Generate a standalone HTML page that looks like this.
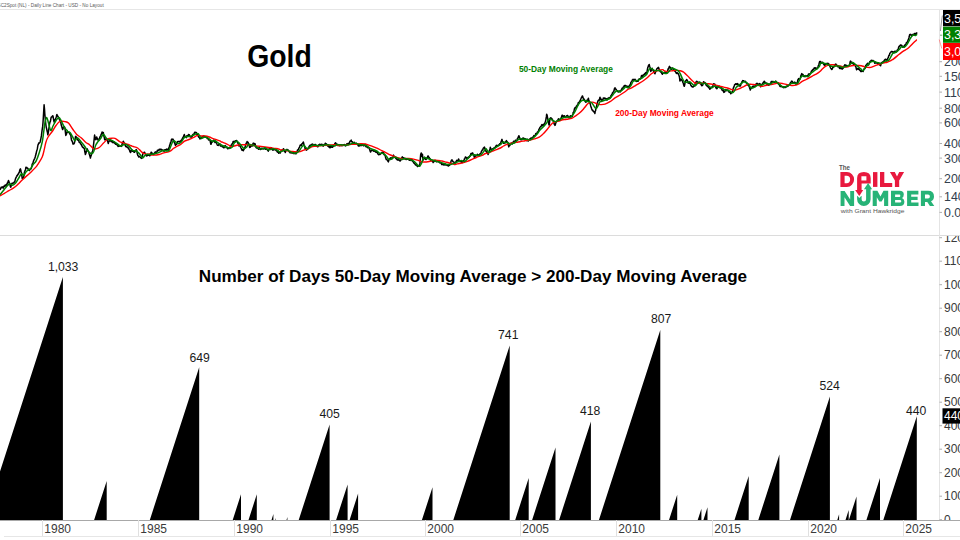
<!DOCTYPE html><html><head><meta charset="utf-8"><style>
html,body{margin:0;padding:0;background:#fff;width:960px;height:540px;overflow:hidden}
svg{display:block}text{font-family:"Liberation Sans",sans-serif}
</style></head><body>
<svg width="960" height="540" viewBox="0 0 960 540">
<rect width="960" height="540" fill="#fff"/>
<text x="-3" y="7.1" font-size="5.8" fill="#585858" textLength="106.7" lengthAdjust="spacingAndGlyphs">GC2Spot (NL) - Daily Line Chart - USD - No Layout</text>
<line x1="0" y1="9.5" x2="960" y2="9.5" stroke="#e6e6e6" stroke-width="1"/>
<line x1="0" y1="235.5" x2="960" y2="235.5" stroke="#dcdcdc" stroke-width="1"/>
<line x1="939.5" y1="10" x2="939.5" y2="520" stroke="#e4e4e4" stroke-width="1"/>
<line x1="0" y1="520.5" x2="960" y2="520.5" stroke="#a8a8a8" stroke-width="1"/>
<line x1="4" y1="536.5" x2="960" y2="536.5" stroke="#e6e6e6" stroke-width="1"/>
<line x1="42.5" y1="520" x2="42.5" y2="536" stroke="#e0e0e0" stroke-width="1"/>
<text x="44.3" y="532.6" font-size="12" fill="#3a3a3a">1980</text>
<line x1="138.5" y1="520" x2="138.5" y2="536" stroke="#e0e0e0" stroke-width="1"/>
<text x="140.3" y="532.6" font-size="12" fill="#3a3a3a">1985</text>
<line x1="234.5" y1="520" x2="234.5" y2="536" stroke="#e0e0e0" stroke-width="1"/>
<text x="236.3" y="532.6" font-size="12" fill="#3a3a3a">1990</text>
<line x1="330.5" y1="520" x2="330.5" y2="536" stroke="#e0e0e0" stroke-width="1"/>
<text x="332.3" y="532.6" font-size="12" fill="#3a3a3a">1995</text>
<line x1="425.5" y1="520" x2="425.5" y2="536" stroke="#e0e0e0" stroke-width="1"/>
<text x="427.3" y="532.6" font-size="12" fill="#3a3a3a">2000</text>
<line x1="520.5" y1="520" x2="520.5" y2="536" stroke="#e0e0e0" stroke-width="1"/>
<text x="522.3" y="532.6" font-size="12" fill="#3a3a3a">2005</text>
<line x1="616.5" y1="520" x2="616.5" y2="536" stroke="#e0e0e0" stroke-width="1"/>
<text x="618.3" y="532.6" font-size="12" fill="#3a3a3a">2010</text>
<line x1="712.5" y1="520" x2="712.5" y2="536" stroke="#e0e0e0" stroke-width="1"/>
<text x="714.3" y="532.6" font-size="12" fill="#3a3a3a">2015</text>
<line x1="808.5" y1="520" x2="808.5" y2="536" stroke="#e0e0e0" stroke-width="1"/>
<text x="810.3" y="532.6" font-size="12" fill="#3a3a3a">2020</text>
<line x1="903.5" y1="520" x2="903.5" y2="536" stroke="#e0e0e0" stroke-width="1"/>
<text x="905.3" y="532.6" font-size="12" fill="#3a3a3a">2025</text>
<polyline points="0.0,190.1 0.4,188.9 0.7,188.7 1.1,187.3 1.5,187.6 1.8,187.4 2.2,186.8 2.6,187.6 2.9,187.4 3.3,188.1 3.7,187.0 4.0,186.1 4.4,185.8 4.7,186.4 5.0,185.5 5.3,185.0 5.6,185.2 5.9,185.7 6.3,185.2 6.6,184.3 7.0,184.5 7.3,183.0 7.6,183.3 7.9,182.3 8.2,181.3 8.5,180.5 8.9,181.3 9.2,182.9 9.6,183.2 10.0,184.7 10.3,186.3 10.7,187.3 11.0,186.6 11.3,185.2 11.6,184.0 11.9,183.3 12.3,183.7 12.6,183.5 13.0,183.0 13.3,183.1 13.7,182.8 14.1,182.1 14.4,182.2 14.8,181.9 15.2,179.9 15.6,178.5 16.0,177.6 16.3,177.2 16.7,176.3 17.1,175.3 17.4,175.7 17.8,174.4 18.1,173.9 18.5,173.9 18.9,172.7 19.3,172.4 19.7,170.3 20.0,169.6 20.4,168.8 20.8,170.1 21.1,172.0 21.5,172.8 21.9,175.8 22.2,178.5 22.5,178.1 22.8,177.5 23.1,177.7 23.4,177.8 23.7,176.9 24.0,175.1 24.4,172.3 24.7,171.6 25.0,170.7 25.3,170.2 25.6,169.2 25.9,167.3 26.2,167.4 26.5,168.0 26.8,167.5 27.1,168.1 27.4,168.1 27.7,168.3 28.0,168.4 28.3,169.8 28.6,169.8 28.9,170.2 29.2,170.0 29.5,170.5 29.8,169.4 30.1,169.2 30.4,169.1 30.7,169.1 31.0,168.8 31.3,168.3 31.6,166.9 31.9,165.9 32.2,164.2 32.6,163.5 32.9,163.5 33.2,162.1 33.5,161.0 33.8,160.3 34.1,159.6 34.5,159.0 34.8,158.3 35.2,157.0 35.7,155.0 36.1,153.8 36.4,152.2 36.7,150.9 37.0,150.0 37.4,148.4 37.7,146.5 38.0,144.8 38.4,144.4 38.7,142.9 39.1,143.2 39.4,142.9 39.8,142.7 40.1,141.9 40.5,140.3 40.8,139.1 41.1,137.4 41.4,135.9 41.7,133.3 42.0,130.9 42.3,128.9 42.6,126.9 43.0,122.7 43.3,118.0 43.7,111.2 44.1,104.8 44.5,109.0 44.8,113.7 45.1,117.0 45.5,121.7 45.9,125.0 46.3,127.5 46.6,128.6 46.9,130.0 47.2,131.5 47.5,132.5 47.8,134.8 48.1,133.6 48.5,131.3 48.8,129.1 49.2,126.4 49.5,124.0 49.8,122.8 50.2,121.5 50.5,121.0 50.8,119.1 51.2,117.2 51.5,117.1 51.8,117.0 52.1,116.3 52.4,116.5 52.7,115.7 53.0,116.0 53.4,118.4 53.7,120.2 54.0,121.6 54.4,122.3 54.7,121.1 55.0,119.6 55.4,119.3 55.7,118.4 56.0,117.8 56.4,116.4 56.7,114.9 57.0,114.6 57.3,115.6 57.6,116.1 57.9,116.4 58.2,116.7 58.6,117.7 58.9,118.0 59.2,119.0 59.6,119.9 59.9,120.0 60.2,120.5 60.5,121.5 60.8,122.5 61.1,124.1 61.4,125.7 61.7,126.1 62.0,127.5 62.3,128.6 62.6,129.6 63.0,128.6 63.3,127.8 63.6,127.2 64.0,126.7 64.3,126.7 64.7,127.4 65.0,128.3 65.4,132.2 65.8,135.4 66.1,134.7 66.5,134.1 66.8,132.3 67.2,131.8 67.5,131.5 67.8,132.0 68.2,132.4 68.5,132.3 68.9,132.0 69.2,132.8 69.5,132.9 69.8,133.8 70.2,134.8 70.5,134.6 70.8,134.7 71.1,137.4 71.4,139.6 71.7,140.8 72.0,140.9 72.3,141.2 72.7,142.9 73.0,144.1 73.3,144.0 73.6,144.0 73.9,143.9 74.3,143.2 74.6,142.0 74.9,140.6 75.2,138.5 75.5,136.6 75.8,136.4 76.1,136.9 76.4,137.1 76.8,138.0 77.1,137.9 77.4,139.0 77.7,139.9 78.0,139.8 78.3,140.1 78.6,140.6 78.9,141.1 79.2,142.2 79.5,142.2 79.8,142.7 80.1,142.6 80.5,143.9 80.8,143.9 81.1,144.2 81.4,144.7 81.7,145.7 82.0,145.8 82.3,146.9 82.6,147.1 83.0,147.5 83.3,147.9 83.6,147.5 83.9,148.2 84.2,148.4 84.5,149.4 84.8,151.8 85.1,152.9 85.4,154.5 85.7,153.8 86.1,152.6 86.4,151.1 86.8,149.9 87.1,148.8 87.4,150.0 87.8,149.9 88.1,150.9 88.4,151.3 88.8,151.9 89.1,153.5 89.4,154.4 89.7,155.4 90.1,156.7 90.4,158.1 90.7,156.6 91.1,155.7 91.4,154.5 91.7,153.5 92.0,152.9 92.3,151.8 92.6,151.0 92.9,150.1 93.3,146.6 93.8,142.5 94.2,138.8 94.6,135.1 95.0,136.9 95.4,139.5 95.7,139.7 96.1,139.4 96.4,138.0 96.7,136.9 97.0,138.0 97.3,138.4 97.6,139.3 97.9,140.0 98.2,140.1 98.6,140.2 98.9,140.1 99.2,138.6 99.5,138.3 99.8,137.7 100.2,136.2 100.5,136.2 100.8,136.0 101.1,134.3 101.4,134.2 101.8,132.9 102.1,131.9 102.4,132.8 102.7,133.2 103.0,132.4 103.3,132.4 103.6,134.4 103.9,136.0 104.3,137.5 104.6,139.3 104.9,139.9 105.2,139.1 105.5,139.4 105.8,139.4 106.1,138.7 106.4,138.8 106.7,139.3 107.0,140.0 107.3,140.0 107.7,141.6 108.0,142.6 108.3,143.6 108.6,142.2 109.0,141.5 109.3,140.5 109.7,141.0 110.0,140.4 110.3,140.0 110.7,140.3 111.0,141.3 111.4,141.8 111.7,141.2 112.0,140.9 112.3,142.0 112.6,142.2 113.0,142.6 113.3,141.9 113.6,141.6 113.9,142.4 114.2,142.6 114.5,142.2 114.8,143.4 115.2,143.7 115.5,144.2 115.8,143.5 116.1,144.3 116.4,143.8 116.7,144.8 117.0,144.9 117.3,145.0 117.7,145.4 118.0,146.4 118.3,146.1 118.6,145.8 118.9,146.4 119.3,146.2 119.6,145.9 120.0,145.9 120.3,145.7 120.6,145.9 120.9,146.2 121.2,146.4 121.5,146.3 121.8,145.1 122.1,144.4 122.4,143.0 122.8,142.5 123.3,141.3 123.7,142.2 124.1,142.7 124.4,144.0 124.7,144.7 125.0,144.7 125.3,145.3 125.6,146.4 125.9,145.8 126.2,146.7 126.5,146.7 126.8,146.8 127.2,147.5 127.5,147.2 127.9,147.3 128.2,147.8 128.5,148.8 128.8,148.5 129.1,149.3 129.4,149.8 130.0,151.7 130.6,152.4 131.0,151.3 131.4,149.8 131.8,150.0 132.2,150.2 132.5,151.2 132.8,151.1 133.2,150.9 133.5,150.7 133.8,151.7 134.1,152.3 134.5,152.3 134.8,151.7 135.1,151.3 135.4,150.7 135.7,150.5 136.0,149.8 136.3,149.6 136.7,150.5 137.1,152.6 137.5,154.6 137.9,155.7 138.3,155.7 138.8,157.0 139.1,156.8 139.4,156.8 139.7,156.4 140.0,156.9 140.4,157.4 140.8,157.9 141.2,157.8 141.6,158.4 142.0,158.2 142.6,154.9 143.2,153.0 143.5,153.2 143.8,152.6 144.2,152.2 144.5,152.3 144.8,152.7 145.1,153.6 145.5,154.2 145.8,155.0 146.1,155.5 146.4,155.6 146.7,155.9 147.1,155.3 147.4,154.7 147.7,155.5 148.0,154.6 148.4,155.1 148.7,155.3 149.0,154.4 149.3,155.2 149.7,155.8 150.0,155.8 150.4,154.9 150.7,154.1 151.1,152.2 151.4,152.4 151.7,152.5 152.0,153.2 152.3,153.6 152.6,154.0 152.9,153.9 153.2,154.4 153.5,154.4 153.8,154.5 154.1,153.8 154.4,153.2 154.7,152.6 155.0,152.5 155.3,151.9 155.6,152.6 155.9,152.4 156.2,152.3 156.5,152.1 156.8,152.0 157.1,151.5 157.4,150.3 157.7,150.7 158.0,150.8 158.3,150.3 158.6,149.9 158.9,149.8 159.3,149.2 159.6,150.1 160.0,150.0 160.3,149.3 160.7,149.2 161.0,149.8 161.3,149.3 161.6,149.8 162.0,150.5 162.3,150.1 162.6,149.9 162.9,150.0 163.3,150.5 163.6,151.0 163.9,151.2 164.2,151.1 164.6,150.2 164.9,149.7 165.2,149.6 165.5,150.3 165.8,150.0 166.2,150.2 166.5,149.4 166.8,149.0 167.1,149.0 167.4,149.6 167.8,149.9 168.1,150.0 168.4,149.5 168.7,148.6 169.1,147.6 169.4,146.6 169.7,145.0 170.0,144.6 170.4,142.8 170.7,142.4 171.0,142.0 171.3,140.0 171.7,139.2 172.0,139.0 172.3,139.8 172.7,139.6 173.0,139.2 173.3,139.6 173.7,141.3 174.0,141.5 174.3,142.5 174.8,143.2 175.2,144.8 175.5,145.3 175.8,144.2 176.2,144.5 176.5,144.0 176.8,143.8 177.2,143.1 177.5,141.7 177.8,141.6 178.1,141.8 178.5,141.4 178.8,141.4 179.1,141.7 179.4,141.9 179.8,141.7 180.1,141.3 180.4,141.0 180.7,140.7 181.1,141.1 181.4,139.9 181.7,140.2 182.0,140.4 182.3,138.5 182.7,138.3 183.0,137.3 183.3,137.2 183.7,136.0 184.0,135.2 184.3,134.5 184.6,135.9 185.0,136.3 185.3,136.4 185.8,137.1 186.2,137.6 186.5,136.6 186.8,135.9 187.2,136.5 187.5,135.8 187.8,136.3 188.2,135.3 188.5,134.5 188.8,135.0 189.2,134.8 189.5,135.2 189.8,136.4 190.1,136.8 190.5,136.9 190.8,136.7 191.1,136.9 191.5,137.1 191.8,136.6 192.2,136.2 192.6,134.7 193.0,134.7 193.3,134.2 193.7,134.3 194.0,134.1 194.3,133.3 194.7,132.3 195.0,133.0 195.3,132.4 195.7,132.6 196.0,132.6 196.3,132.5 196.6,133.5 196.9,134.5 197.3,134.2 197.6,134.7 197.9,135.2 198.2,136.2 198.6,136.9 198.9,137.4 199.2,137.4 199.6,137.6 199.9,138.9 200.2,138.5 200.5,137.6 200.8,138.0 201.1,138.6 201.5,138.1 201.8,137.3 202.1,137.0 202.5,136.6 202.8,136.7 203.1,136.2 203.4,136.0 203.8,135.9 204.1,136.2 204.4,136.8 204.7,136.9 205.0,136.8 205.4,136.9 205.7,137.2 206.0,137.3 206.4,137.4 206.7,137.1 207.0,137.3 207.3,138.6 207.6,138.2 208.0,138.6 208.3,139.1 208.6,139.9 208.9,139.5 209.2,139.5 209.6,139.6 209.9,140.0 210.2,141.1 210.6,143.0 210.9,144.3 211.2,144.0 211.5,142.3 211.8,141.0 212.1,141.4 212.5,141.9 212.8,141.5 213.1,141.3 213.5,140.2 213.8,140.1 214.1,141.1 214.4,141.6 214.8,142.1 215.1,142.6 215.4,141.8 215.7,141.1 216.0,141.3 216.4,142.2 216.7,143.3 217.1,144.5 217.4,145.2 217.7,145.2 218.1,145.4 218.4,145.1 218.7,145.1 219.0,144.0 219.3,144.4 219.7,143.7 220.0,144.3 220.5,146.1 220.8,145.8 221.1,145.3 221.4,145.3 221.8,146.0 222.1,146.6 222.4,146.1 222.7,146.0 223.0,146.8 223.3,147.5 223.6,147.7 223.9,147.8 224.2,147.6 224.5,146.4 224.9,145.9 225.2,145.6 225.5,146.0 225.8,146.5 226.1,147.4 226.5,147.4 226.8,147.2 227.1,147.3 227.4,148.4 227.7,148.8 228.0,148.4 228.3,147.8 228.6,148.3 228.9,148.5 229.2,148.0 229.6,147.4 229.9,147.5 230.2,147.9 230.5,146.9 230.8,145.6 231.1,145.2 231.5,144.8 231.8,144.9 232.1,143.9 232.4,143.6 232.7,143.0 233.0,141.9 233.3,141.4 233.6,142.3 234.0,141.8 234.3,142.4 234.6,141.8 234.9,141.1 235.2,141.5 235.5,140.9 235.8,141.4 236.1,140.9 236.4,140.6 236.7,140.6 237.0,141.1 237.3,141.8 237.6,142.9 237.9,142.9 238.2,143.6 238.6,144.1 238.9,146.0 239.2,145.8 239.6,145.7 239.9,145.9 240.3,146.4 240.7,147.5 241.1,148.2 241.4,148.7 241.7,149.6 242.1,150.3 242.4,149.9 242.7,149.6 243.0,150.4 243.3,150.7 243.6,149.7 243.9,149.6 244.2,148.9 244.6,148.3 244.9,147.7 245.3,146.2 245.7,144.6 246.1,143.6 246.4,142.9 246.8,143.0 247.1,141.4 247.4,142.6 247.7,142.2 248.0,142.3 248.3,143.2 248.6,143.8 248.9,145.0 249.3,145.7 249.6,147.4 249.9,146.9 250.2,147.2 250.5,146.0 250.8,145.8 251.1,146.4 251.4,145.4 251.7,145.3 252.0,145.8 252.3,145.9 252.6,144.6 253.0,143.7 253.3,143.1 253.6,144.0 253.9,143.5 254.2,143.9 254.6,144.3 254.9,143.6 255.2,144.2 255.5,146.0 255.8,147.0 256.1,147.4 256.4,148.0 256.8,147.8 257.1,147.8 257.4,147.4 257.7,148.1 258.0,148.8 258.3,148.8 258.6,149.2 258.9,148.0 259.2,147.6 259.6,147.9 259.9,148.8 260.2,149.5 260.5,149.0 260.8,148.5 261.1,148.6 261.4,148.5 261.7,149.0 262.1,148.1 262.4,148.5 262.7,148.6 263.0,148.7 263.3,148.9 263.6,148.9 263.9,148.5 264.3,148.3 264.6,148.3 264.9,149.0 265.2,148.4 265.5,148.4 265.8,149.3 266.2,149.2 266.5,148.9 266.8,148.8 267.1,149.6 267.4,149.5 267.7,150.4 268.0,150.7 268.3,151.1 268.6,150.0 268.9,149.1 269.2,148.5 269.6,148.6 269.9,148.9 270.2,148.5 270.5,147.8 270.8,147.6 271.1,147.7 271.4,147.7 271.7,148.5 272.0,149.3 272.4,149.6 272.7,149.1 273.0,150.2 273.3,149.6 273.6,149.7 273.9,149.4 274.3,149.8 274.6,149.1 274.9,148.8 275.2,148.9 275.5,148.9 275.8,150.2 276.1,150.6 276.5,150.6 276.8,150.8 277.1,151.9 277.4,152.0 277.7,151.5 278.1,152.3 278.4,152.5 278.8,153.3 279.1,152.1 279.4,152.0 279.7,152.5 280.0,152.7 280.3,153.0 280.6,151.7 280.9,151.3 281.2,150.8 281.6,150.2 281.9,150.8 282.2,150.5 282.5,150.6 282.8,149.6 283.1,149.6 283.4,148.8 283.7,148.9 284.0,150.0 284.4,151.2 284.7,150.9 285.0,151.7 285.3,152.5 285.6,151.5 285.9,151.1 286.2,150.3 286.6,149.8 286.9,149.4 287.2,149.6 287.5,150.3 287.8,150.2 288.1,150.0 288.4,150.5 288.8,151.5 289.1,151.4 289.4,151.8 289.7,151.9 290.0,152.8 290.3,152.9 290.6,152.3 291.0,151.9 291.3,152.2 291.6,152.7 291.9,153.1 292.2,152.5 292.5,152.3 292.8,153.0 293.1,153.0 293.4,152.8 293.8,152.8 294.1,153.7 294.4,153.2 294.7,153.2 295.0,152.9 295.3,152.8 295.6,153.4 295.9,153.9 296.2,153.2 296.6,152.1 296.9,152.1 297.2,151.1 297.5,150.0 297.8,150.6 298.1,149.7 298.5,149.4 298.8,148.2 299.1,147.9 299.5,147.1 299.9,146.0 300.3,144.9 300.6,145.0 301.0,145.1 301.3,145.4 301.6,144.1 302.0,144.1 302.3,143.6 302.7,143.3 303.0,142.5 303.4,142.1 303.7,143.5 304.1,145.5 304.4,145.9 304.7,146.8 305.0,148.2 305.3,149.6 305.6,149.5 305.9,148.7 306.2,149.6 306.6,150.1 306.9,149.5 307.2,148.5 307.5,149.2 307.8,148.3 308.1,148.5 308.5,147.9 308.8,147.6 309.1,146.2 309.4,146.5 309.7,145.7 310.0,145.4 310.3,145.9 310.6,146.1 310.9,145.1 311.2,144.6 311.6,144.5 311.9,144.6 312.2,144.4 312.5,144.1 312.8,144.2 313.1,145.1 313.4,146.0 313.8,145.2 314.1,145.3 314.4,145.6 314.7,144.6 315.0,145.2 315.3,144.4 315.6,144.6 315.9,145.1 316.2,145.6 316.6,145.6 316.9,145.9 317.2,146.5 317.5,146.8 317.8,146.8 318.1,146.3 318.4,145.9 318.8,144.8 319.1,145.0 319.4,144.8 319.7,144.2 320.0,144.5 320.3,145.1 320.6,144.9 320.9,144.5 321.3,144.7 321.6,144.4 321.9,144.2 322.2,144.9 322.5,144.8 322.8,145.5 323.1,146.2 323.4,145.2 323.7,145.4 324.0,144.5 324.4,144.8 324.7,144.9 325.0,144.4 325.3,143.2 325.6,143.5 325.9,143.6 326.2,144.6 326.6,144.0 326.9,144.8 327.2,145.6 327.5,145.7 327.8,146.1 328.1,145.4 328.4,146.4 328.8,146.3 329.1,147.1 329.4,147.6 329.7,146.8 330.0,147.2 330.3,147.7 330.6,146.6 330.9,146.5 331.3,147.0 331.6,146.4 331.9,147.2 332.2,146.7 332.5,147.3 332.8,146.2 333.1,146.0 333.4,146.4 333.8,145.3 334.1,144.6 334.4,144.4 334.7,144.1 335.0,143.3 335.3,143.0 335.6,142.7 335.9,143.7 336.2,144.2 336.5,144.9 336.8,144.2 337.2,144.9 337.5,144.3 337.8,144.7 338.1,145.2 338.4,144.9 338.7,145.5 339.1,145.4 339.4,145.3 339.7,145.8 340.0,144.8 340.4,145.6 340.7,145.5 341.0,145.0 341.3,145.4 341.6,144.9 342.0,145.7 342.3,145.5 342.6,145.1 342.9,145.5 343.3,145.2 343.6,144.7 343.9,145.3 344.2,144.5 344.5,145.2 344.8,144.8 345.1,145.1 345.4,145.9 345.7,145.7 346.0,145.7 346.3,145.2 346.6,144.4 346.9,143.9 347.2,143.6 347.5,144.1 347.8,144.0 348.1,143.9 348.5,144.5 348.8,143.4 349.1,142.9 349.4,143.2 349.7,142.1 350.0,141.3 350.3,141.2 350.6,140.6 350.9,140.5 351.2,140.1 351.5,141.0 351.8,141.7 352.1,141.6 352.4,142.4 352.7,142.8 353.0,142.3 353.3,143.4 353.7,142.9 354.0,142.6 354.3,142.3 354.6,143.0 355.0,143.9 355.3,144.3 355.6,143.9 355.9,143.6 356.2,143.1 356.6,143.8 356.9,144.2 357.2,144.2 357.5,144.7 357.9,144.7 358.2,145.6 358.5,145.9 358.8,145.3 359.1,146.1 359.4,145.3 359.7,145.6 360.0,145.7 360.3,145.2 360.6,144.6 360.9,145.4 361.3,144.6 361.6,144.9 361.9,145.6 362.2,144.8 362.5,144.5 362.8,145.0 363.2,145.1 363.5,145.4 363.8,145.9 364.1,145.2 364.5,145.0 364.8,144.9 365.1,144.4 365.4,145.6 365.7,146.3 366.0,146.6 366.4,145.7 366.7,146.6 367.0,147.0 367.3,146.9 367.6,147.6 367.9,147.7 368.2,147.6 368.5,147.5 368.8,147.8 369.1,147.8 369.4,148.5 369.7,149.8 370.0,150.6 370.3,151.5 370.6,152.0 371.0,151.0 371.3,150.7 371.7,150.2 372.0,150.3 372.4,149.8 372.7,149.5 373.0,150.0 373.3,151.0 373.7,150.4 374.0,151.2 374.3,150.4 374.6,150.4 374.9,150.3 375.2,151.1 375.5,152.0 375.9,152.2 376.2,151.7 376.5,152.3 376.8,151.9 377.1,151.9 377.5,153.3 377.9,153.8 378.2,154.5 378.5,154.4 378.8,154.8 379.1,154.2 379.5,154.4 379.8,154.3 380.1,154.4 380.4,153.8 380.7,153.8 381.0,153.6 381.4,153.1 381.7,152.5 382.0,152.9 382.4,152.2 382.7,153.1 383.0,152.4 383.3,152.3 383.6,152.7 383.9,154.4 384.2,154.7 384.5,154.8 384.8,154.9 385.1,155.2 385.4,156.7 385.7,157.8 386.0,158.7 386.3,159.6 386.6,159.3 387.0,159.8 387.3,159.9 387.7,160.7 388.0,161.3 388.4,161.9 388.8,159.8 389.1,159.4 389.5,158.9 389.8,159.4 390.1,158.4 390.4,158.1 390.8,157.8 391.1,157.6 391.4,158.8 391.7,159.0 392.0,158.6 392.3,158.5 392.6,158.0 392.9,157.0 393.2,155.9 393.5,155.1 393.8,156.3 394.1,156.3 394.4,156.7 394.8,157.3 395.1,157.1 395.4,157.6 395.7,158.0 396.0,158.8 396.3,158.8 396.6,158.7 397.0,159.7 397.3,159.6 397.6,160.1 397.9,160.0 398.2,159.2 398.5,159.4 398.8,159.7 399.2,160.4 399.5,160.3 399.8,160.9 400.1,161.0 400.4,160.1 400.7,160.4 401.0,159.1 401.4,159.4 401.7,158.4 402.0,157.3 402.3,156.8 402.9,157.9 403.2,158.8 403.5,157.8 403.8,158.1 404.1,158.2 404.4,158.9 404.7,158.3 405.0,158.5 405.3,158.4 405.6,159.1 405.9,158.7 406.2,159.6 406.5,159.1 406.8,158.7 407.1,159.2 407.4,159.3 407.7,158.7 408.0,159.3 408.4,158.7 408.7,159.5 409.0,159.9 409.3,160.3 409.6,160.3 409.9,159.9 410.2,159.8 410.5,159.7 410.9,160.5 411.2,159.7 411.5,160.5 411.8,159.7 412.1,159.8 412.4,160.1 412.8,161.5 413.1,161.8 413.4,162.0 413.8,163.1 414.1,162.8 414.4,163.2 414.7,163.5 415.0,164.2 415.3,164.7 415.6,165.0 415.9,164.7 416.3,164.7 416.6,164.4 416.9,165.5 417.2,166.0 417.5,166.5 417.8,165.7 418.2,165.6 418.5,166.0 418.8,166.0 419.1,165.2 419.5,165.3 419.8,165.9 420.2,160.1 420.7,154.4 421.2,152.9 421.5,154.7 421.8,156.5 422.4,154.2 422.7,157.0 423.0,160.2 423.3,159.5 423.6,159.1 424.0,158.0 424.3,157.3 424.6,157.3 425.0,158.7 425.4,159.1 425.7,158.5 426.0,159.5 426.4,158.9 426.7,158.1 427.0,158.3 427.3,157.8 427.6,157.1 427.9,155.9 428.2,156.0 428.5,157.1 428.9,157.1 429.2,157.6 429.5,158.5 429.8,158.3 430.1,158.8 430.4,159.8 430.7,160.3 431.0,160.5 431.3,160.8 431.6,160.8 431.9,160.4 432.2,161.0 432.5,161.1 432.8,161.8 433.1,162.6 433.5,161.9 433.8,161.6 434.1,161.6 434.5,161.0 434.9,160.2 435.2,160.4 435.5,161.0 435.8,161.3 436.1,161.4 436.4,161.7 436.8,161.7 437.1,161.6 437.4,161.3 437.7,161.0 438.0,161.3 438.3,160.7 438.6,161.0 438.9,161.9 439.2,162.3 439.5,162.6 439.8,162.2 440.1,162.4 440.5,162.6 440.8,163.1 441.1,163.1 441.4,163.6 441.7,164.5 442.0,163.8 442.3,164.1 442.6,164.5 442.9,164.2 443.2,164.1 443.5,164.9 443.8,163.9 444.1,164.1 444.4,163.6 444.7,164.4 445.0,165.1 445.3,164.8 445.6,164.1 445.9,164.4 446.2,164.6 446.5,165.0 446.8,165.0 447.1,165.2 447.5,165.6 447.8,165.5 448.1,165.2 448.4,166.0 448.7,165.3 449.0,165.6 449.3,165.4 449.6,165.1 450.0,163.7 450.3,163.9 450.7,162.8 451.0,161.3 451.4,160.5 451.7,160.0 452.0,159.8 452.3,160.4 452.6,160.9 453.0,161.8 453.3,161.9 453.6,161.9 453.9,162.0 454.3,162.8 454.6,163.5 455.0,163.3 455.3,162.4 455.6,162.6 455.9,161.9 456.3,161.1 456.6,160.4 456.9,160.8 457.2,161.0 457.6,160.7 457.9,160.2 458.3,159.9 458.6,159.0 458.9,160.2 459.2,160.1 459.6,160.6 459.9,161.3 460.2,161.7 460.5,161.6 460.8,161.3 461.2,161.6 461.5,161.2 461.8,162.2 462.1,162.1 462.4,162.5 462.8,161.7 463.1,161.3 463.4,160.8 463.8,160.7 464.1,160.1 464.4,158.8 464.8,158.9 465.1,157.9 465.4,156.9 465.7,157.1 466.0,157.5 466.4,157.7 466.7,158.3 467.0,158.3 467.3,157.8 467.6,158.3 468.0,158.4 468.3,157.1 468.6,157.4 468.9,157.6 469.3,157.4 469.6,156.1 469.9,156.3 470.3,156.0 470.6,154.6 470.9,153.6 471.2,154.4 471.6,154.2 471.9,153.3 472.2,153.0 472.5,152.9 472.8,153.1 473.1,154.2 473.4,154.7 473.8,154.9 474.1,156.5 474.4,157.6 474.7,156.3 475.0,156.6 475.4,156.1 475.7,155.8 476.0,155.6 476.4,155.8 476.7,155.6 477.1,155.5 477.4,154.3 477.7,154.7 478.0,154.8 478.4,155.3 478.7,155.1 479.0,155.9 479.3,155.4 479.6,154.6 479.9,154.0 480.3,153.4 480.6,153.5 480.9,152.8 481.2,152.3 481.5,151.2 481.9,150.8 482.2,150.2 482.5,149.8 482.9,149.8 483.2,148.2 483.5,148.2 483.8,147.7 484.2,147.3 484.5,147.1 484.8,148.5 485.2,149.1 485.5,149.9 485.8,151.2 486.1,150.8 486.5,151.7 486.8,152.5 487.1,152.0 487.5,152.8 487.8,153.6 488.1,154.6 488.5,152.9 488.9,152.6 489.3,151.2 489.6,149.9 490.0,149.4 490.3,147.3 490.6,148.4 491.0,149.1 491.3,149.2 491.6,149.8 491.9,149.3 492.2,149.1 492.6,149.1 492.9,149.4 493.2,148.7 493.5,148.4 493.9,148.0 494.2,147.9 494.5,148.1 494.9,147.3 495.2,147.5 495.5,146.7 495.9,146.3 496.2,145.5 496.5,145.2 496.8,146.1 497.1,146.0 497.4,146.3 497.8,145.6 498.1,145.3 498.4,145.0 498.7,145.0 499.1,144.9 499.4,144.9 499.7,143.7 500.1,143.8 500.4,144.1 500.7,143.3 501.0,141.8 501.4,141.1 501.7,139.9 502.0,139.3 502.3,140.9 502.6,141.5 503.0,142.0 503.3,142.8 503.6,143.2 503.9,143.1 504.3,143.0 504.6,143.0 504.9,143.2 505.2,142.7 505.5,142.3 505.9,141.2 506.2,141.1 506.5,140.6 506.8,141.7 507.2,141.7 507.5,142.1 507.8,142.5 508.1,144.3 508.5,145.9 508.8,146.9 509.1,145.9 509.5,145.8 509.8,145.5 510.1,144.7 510.4,143.9 510.7,143.5 511.1,143.4 511.4,143.1 511.7,143.1 512.0,143.4 512.3,143.9 512.7,142.7 513.0,142.7 513.3,141.8 513.7,141.2 514.0,141.9 514.3,141.8 514.7,142.2 515.0,141.6 515.3,140.4 515.6,140.2 515.9,140.4 516.2,140.9 516.5,141.2 516.8,140.5 517.1,139.8 517.4,138.6 517.8,138.5 518.1,137.6 518.4,136.7 518.8,135.8 519.1,136.1 519.4,137.5 519.7,137.7 520.0,139.4 520.3,138.8 520.7,139.8 521.0,139.2 521.4,138.8 521.7,139.7 522.0,139.1 522.4,139.5 522.7,138.7 523.1,137.9 523.4,138.4 523.8,138.5 524.1,139.1 524.4,139.3 524.7,138.4 525.0,138.8 525.3,139.3 525.6,139.1 525.9,139.9 526.2,139.3 526.6,140.3 526.9,140.6 527.3,139.7 527.6,139.3 528.0,140.2 528.3,141.1 528.6,140.0 529.0,139.6 529.3,139.9 529.7,139.0 530.0,139.5 530.3,139.1 530.6,138.2 530.9,138.1 531.2,138.2 531.5,138.0 531.8,138.2 532.1,137.4 532.4,137.7 532.7,137.1 533.0,137.0 533.3,136.8 533.6,136.2 533.9,135.6 534.2,135.8 534.5,136.1 534.8,135.9 535.2,135.4 535.5,134.5 535.8,133.6 536.1,134.1 536.5,133.7 536.8,133.6 537.2,132.4 537.5,132.0 537.8,132.1 538.2,131.6 538.5,130.8 538.9,129.5 539.2,128.7 539.5,128.7 539.8,127.6 540.2,127.1 540.5,126.5 540.8,126.3 541.1,126.4 541.4,125.7 541.7,124.8 542.0,124.6 542.3,124.8 542.6,125.2 542.9,125.8 543.2,125.8 543.5,124.3 543.8,124.6 544.1,124.5 544.4,124.4 544.7,123.6 545.0,122.6 545.4,121.5 545.8,120.1 546.1,118.2 546.4,116.7 546.7,114.2 547.1,115.2 547.5,117.3 547.9,120.0 548.3,121.5 548.6,123.1 548.9,124.7 549.2,125.1 549.6,121.7 550.0,118.3 550.3,118.3 550.7,117.9 551.0,117.8 551.4,118.6 551.7,119.2 552.0,119.4 552.3,119.0 552.7,120.2 553.0,120.9 553.3,120.7 553.6,121.7 554.0,123.2 554.3,124.3 554.7,124.8 555.0,125.4 555.3,124.7 555.7,123.4 556.0,122.4 556.4,121.5 556.7,121.5 557.0,120.9 557.3,120.8 557.7,120.2 558.0,119.9 558.3,119.0 558.6,118.7 559.0,120.1 559.3,120.0 559.7,119.5 560.0,120.2 560.3,120.1 560.6,118.7 561.0,118.3 561.3,117.5 561.6,116.9 561.9,115.6 562.2,115.1 562.5,116.3 562.9,116.8 563.2,116.4 563.5,116.3 563.9,115.8 564.2,116.2 564.5,115.9 564.8,116.7 565.1,116.9 565.5,117.2 565.8,117.6 566.1,116.8 566.4,116.0 566.7,115.8 567.0,115.7 567.3,115.5 567.7,115.4 568.0,116.2 568.3,117.2 568.6,117.0 568.9,117.6 569.2,117.9 569.5,116.7 569.8,116.7 570.1,116.4 570.4,115.7 570.7,116.6 571.0,116.0 571.3,116.1 571.6,116.2 571.9,116.8 572.2,116.6 572.5,115.1 572.9,113.9 573.2,112.4 573.5,112.3 573.9,111.9 574.2,110.1 574.5,108.7 574.9,108.0 575.2,107.5 575.5,107.9 575.8,107.9 576.1,107.5 576.5,105.8 576.8,105.8 577.1,105.5 577.4,105.0 577.8,105.1 578.1,103.4 578.4,102.4 578.8,102.5 579.1,102.7 579.4,102.2 579.7,101.2 580.0,100.8 580.3,100.7 580.6,99.4 580.9,98.8 581.2,98.1 581.5,97.3 581.8,97.3 582.1,96.5 582.4,96.0 582.7,96.5 583.0,97.9 583.3,97.9 583.6,99.3 583.9,99.6 584.2,99.2 584.5,100.5 584.9,100.2 585.2,101.3 585.5,101.9 585.9,102.3 586.2,101.4 586.5,101.5 586.8,100.3 587.1,100.7 587.5,100.6 587.8,100.0 588.1,99.1 588.4,98.2 588.7,100.0 589.1,100.9 589.4,102.2 589.7,102.7 590.1,103.6 590.4,104.3 590.7,105.9 591.0,107.0 591.3,107.4 591.7,109.1 592.0,109.5 592.3,110.3 592.6,110.2 592.9,110.4 593.3,111.6 593.6,111.7 593.9,111.6 594.2,112.1 594.6,112.3 594.9,113.5 595.2,111.3 595.6,110.7 595.9,108.2 596.2,107.5 596.6,106.1 596.9,103.9 597.2,103.3 597.5,102.4 597.8,101.5 598.1,100.6 598.5,100.1 598.8,100.5 599.1,100.5 599.4,100.1 599.7,98.3 600.0,97.2 600.3,98.6 600.7,98.4 601.0,99.6 601.4,99.9 601.7,101.4 602.0,100.1 602.3,100.4 602.7,99.7 603.0,98.9 603.3,98.0 603.6,98.8 604.0,98.8 604.3,98.1 604.7,98.1 605.0,98.7 605.3,98.4 605.7,99.0 606.0,98.7 606.4,98.8 606.7,99.9 607.0,100.1 607.3,99.4 607.7,98.7 608.0,98.2 608.3,98.7 608.6,98.6 608.9,98.0 609.2,97.5 609.5,97.6 609.9,97.8 610.2,97.9 610.5,97.5 610.8,96.5 611.1,95.2 611.5,95.2 611.8,94.4 612.2,94.2 612.5,92.7 612.8,92.8 613.1,91.9 613.4,91.9 613.8,91.6 614.1,90.5 614.4,88.7 614.7,88.7 615.0,87.7 615.4,89.1 615.8,89.2 616.1,89.3 616.4,90.5 616.7,90.7 617.0,90.6 617.3,90.9 617.7,91.6 618.0,91.3 618.3,92.0 618.6,91.8 619.0,91.8 619.3,91.0 619.7,91.4 620.0,91.6 620.3,91.7 620.7,90.6 621.0,90.5 621.4,89.7 621.7,89.7 622.0,88.3 622.3,88.5 622.7,88.6 623.0,87.8 623.3,87.1 623.6,86.8 624.0,86.6 624.3,85.5 624.7,86.3 625.0,85.6 625.3,85.5 625.7,85.5 626.0,85.8 626.4,87.1 626.7,86.7 627.0,86.4 627.3,87.1 627.7,86.8 628.0,86.3 628.3,86.9 628.6,86.8 629.0,86.4 629.3,86.3 629.7,85.0 630.0,85.3 630.3,84.9 630.7,83.3 631.0,82.2 631.4,81.8 631.7,81.4 632.0,80.8 632.3,80.1 632.7,80.0 633.0,79.3 633.3,79.5 633.6,80.2 634.0,79.5 634.3,79.6 634.7,80.0 635.0,79.3 635.3,80.2 635.7,81.0 636.0,80.7 636.4,80.6 636.7,81.4 637.0,81.1 637.3,80.7 637.7,81.3 638.0,81.4 638.3,80.7 638.6,79.7 639.0,79.1 639.3,78.8 639.7,79.3 640.0,79.1 640.3,78.9 640.7,78.3 641.0,77.8 641.4,76.0 641.7,75.5 642.0,76.1 642.3,76.4 642.7,75.5 643.0,75.1 643.3,75.2 643.6,74.8 644.0,74.8 644.3,74.1 644.7,74.2 645.0,74.3 645.3,73.2 645.7,72.6 646.0,73.4 646.4,73.4 646.7,73.5 647.1,71.1 647.5,69.0 647.9,67.0 648.2,66.8 648.5,65.3 648.9,65.2 649.2,64.4 649.6,66.2 650.0,67.2 650.4,69.1 650.8,71.4 651.1,70.7 651.5,69.5 651.8,68.9 652.1,68.2 652.5,69.8 652.9,70.0 653.3,70.5 653.6,71.4 654.0,71.2 654.3,72.1 654.7,73.4 655.0,73.7 655.3,72.5 655.7,71.8 656.0,71.3 656.4,70.1 656.7,69.1 657.0,68.5 657.3,68.3 657.7,68.2 658.0,67.8 658.3,67.4 658.6,67.6 659.0,68.7 659.3,70.0 659.7,70.6 660.0,71.1 660.3,71.6 660.7,71.3 661.0,72.1 661.4,72.5 661.7,73.1 662.0,73.8 662.4,74.2 662.7,73.7 663.1,73.2 663.4,72.8 663.7,73.0 664.0,72.9 664.4,73.0 664.7,72.1 665.0,72.2 665.3,73.0 665.6,72.5 666.0,72.7 666.3,72.6 666.6,72.3 666.9,73.1 667.2,71.9 667.5,71.6 667.8,70.1 668.1,68.8 668.4,69.0 668.8,68.2 669.1,66.9 669.5,66.4 669.8,66.9 670.1,67.9 670.4,67.6 670.7,67.7 671.0,69.2 671.4,69.4 671.7,68.5 672.1,68.3 672.4,68.1 672.8,68.5 673.1,69.0 673.4,69.7 673.7,70.2 674.1,70.2 674.4,70.6 674.7,71.0 675.0,71.3 675.3,71.3 675.6,72.0 676.0,72.5 676.3,73.3 676.6,72.7 676.9,73.6 677.2,72.7 677.5,73.3 677.8,73.4 678.1,73.4 678.4,74.1 678.8,75.0 679.1,75.8 679.5,77.3 679.9,81.0 680.3,80.4 680.6,79.5 681.0,79.0 681.4,79.4 681.7,80.2 682.1,80.3 682.4,81.0 682.7,81.9 683.0,82.6 683.3,83.2 683.6,84.6 684.0,85.8 684.3,86.3 684.7,84.8 685.0,83.0 685.4,81.6 685.7,80.8 686.0,80.7 686.3,80.5 686.6,79.4 686.9,79.8 687.2,80.0 687.5,81.1 687.8,82.0 688.1,82.9 688.4,82.5 688.7,82.5 689.0,83.3 689.3,82.5 689.6,82.1 689.9,82.8 690.2,83.5 690.6,84.8 690.9,85.5 691.3,85.7 691.6,86.6 691.9,86.5 692.2,86.5 692.6,87.0 692.9,86.9 693.2,86.9 693.6,86.6 693.9,85.8 694.3,86.0 694.6,85.6 695.0,84.8 695.3,83.4 695.6,82.7 696.0,82.1 696.3,81.8 696.6,81.3 696.9,81.3 697.2,82.1 697.5,81.9 697.8,81.9 698.1,82.3 698.4,83.2 698.7,82.6 699.0,82.6 699.3,83.1 699.6,82.3 699.9,82.2 700.2,83.1 700.5,84.0 700.8,84.2 701.1,83.9 701.4,85.1 701.7,85.8 702.0,85.6 702.3,85.5 702.7,85.1 703.0,83.9 703.3,82.6 703.6,81.8 704.0,82.3 704.3,82.7 704.7,82.5 705.0,82.5 705.4,83.4 705.7,84.1 706.0,84.2 706.3,85.5 706.7,85.8 707.0,85.2 707.3,85.6 707.6,86.5 707.9,86.5 708.3,87.2 708.6,86.7 708.9,87.1 709.2,88.3 709.6,88.7 709.9,89.3 710.2,88.4 710.6,88.2 710.9,88.1 711.3,87.4 711.6,87.3 711.9,86.9 712.3,87.2 712.6,86.6 712.9,85.7 713.2,84.6 713.6,83.7 713.9,84.0 714.2,83.9 714.5,83.9 714.8,84.3 715.1,85.2 715.4,86.4 715.7,87.1 716.0,88.0 716.3,87.5 716.6,87.4 716.9,88.8 717.3,87.9 717.6,87.8 718.0,86.8 718.4,86.5 718.7,86.4 719.1,86.1 719.4,87.3 719.8,87.5 720.1,87.5 720.4,87.7 720.8,87.8 721.1,87.4 721.4,88.6 721.7,88.9 722.0,90.0 722.3,90.0 722.6,90.5 722.9,90.3 723.2,90.1 723.5,91.5 723.9,92.4 724.2,92.2 724.6,91.9 725.0,91.2 725.4,89.5 725.7,89.7 726.0,90.4 726.3,90.1 726.7,90.7 727.0,90.0 727.3,89.9 727.6,90.5 727.9,90.2 728.3,90.2 728.6,91.3 728.9,91.4 729.2,92.3 729.5,92.1 729.9,92.1 730.2,92.6 730.5,92.9 730.8,93.7 731.1,93.1 731.5,93.0 731.8,92.2 732.1,92.3 732.4,92.0 732.7,90.9 733.0,89.3 733.3,87.9 733.6,87.8 733.9,86.8 734.3,85.7 734.6,84.6 734.9,84.5 735.2,84.3 735.6,83.8 735.9,84.5 736.2,84.3 736.5,83.9 736.8,84.5 737.1,83.8 737.4,83.6 737.7,84.3 738.0,84.0 738.3,84.3 738.7,85.3 739.0,85.9 739.3,85.3 739.6,85.4 739.9,86.1 740.2,86.1 740.5,85.8 740.9,84.0 741.2,83.7 741.6,82.9 742.0,81.7 742.4,81.2 742.7,80.6 743.0,81.2 743.4,80.7 743.7,81.5 744.0,81.6 744.3,81.4 744.7,81.2 745.0,81.7 745.3,81.4 745.6,82.4 745.9,82.0 746.2,82.5 746.5,83.0 746.9,83.0 747.2,83.9 747.5,83.9 747.8,84.8 748.1,85.3 748.4,85.5 748.7,85.9 749.0,86.1 749.3,86.7 749.7,88.4 750.0,88.8 750.3,90.0 750.6,88.9 750.9,88.9 751.3,88.4 751.6,88.2 751.9,87.5 752.2,86.8 752.5,86.7 752.8,86.4 753.2,86.0 753.5,86.6 753.8,86.2 754.1,86.0 754.4,86.5 754.8,86.5 755.1,86.5 755.4,86.4 755.7,85.0 756.0,84.4 756.3,83.5 756.6,83.9 756.9,84.0 757.2,83.4 757.5,83.8 757.9,84.6 758.2,85.3 758.5,84.3 758.9,84.6 759.2,83.7 759.5,83.5 759.8,83.7 760.1,83.9 760.4,85.6 760.7,86.7 761.0,86.6 761.3,85.4 761.7,84.6 762.0,84.2 762.3,84.0 762.6,83.9 762.9,83.5 763.2,82.5 763.5,82.1 763.9,82.2 764.2,81.2 764.5,81.5 764.8,82.0 765.1,82.8 765.4,82.7 765.7,83.1 766.0,83.7 766.3,83.6 766.7,83.1 767.0,84.2 767.3,84.8 767.6,84.5 767.9,84.0 768.2,85.0 768.5,85.3 768.9,84.6 769.2,84.6 769.5,84.4 769.8,84.6 770.1,83.6 770.5,83.8 770.8,83.4 771.1,81.8 771.4,81.5 771.7,81.4 772.0,82.0 772.3,82.5 772.7,82.0 773.0,81.4 773.3,82.5 773.6,82.0 773.9,82.5 774.2,82.4 774.6,82.3 774.9,82.3 775.2,81.9 775.5,81.8 775.8,81.1 776.1,81.9 776.4,82.0 776.7,82.3 777.3,83.2 777.6,82.6 777.9,83.4 778.2,82.9 778.6,83.8 778.9,84.6 779.2,84.3 779.5,84.9 779.8,86.0 780.1,86.4 780.4,86.6 780.7,86.5 781.1,86.0 781.4,86.3 781.8,86.7 782.1,86.7 782.5,86.9 782.8,86.6 783.1,87.3 783.5,87.6 783.8,87.1 784.1,86.7 784.4,86.9 784.7,86.9 785.0,87.6 785.3,87.1 785.7,86.6 786.0,87.2 786.3,86.4 786.6,86.5 786.9,86.1 787.2,86.5 787.5,86.2 787.9,86.3 788.2,85.3 788.5,85.5 788.8,85.4 789.2,84.7 789.5,84.6 789.9,84.4 790.2,83.2 790.5,82.7 790.8,82.4 791.2,81.8 791.5,81.2 791.8,81.1 792.1,81.2 792.4,82.2 792.7,82.5 793.0,82.3 793.3,82.5 793.6,82.8 793.9,82.9 794.2,82.6 794.5,82.3 794.8,82.1 795.1,83.5 795.4,83.9 795.7,83.0 796.0,83.5 796.4,84.2 796.7,83.9 797.0,83.0 797.4,82.0 797.7,80.8 798.1,79.3 798.4,79.5 798.7,78.6 799.0,79.6 799.3,79.6 799.6,79.6 800.0,79.1 800.3,78.0 800.7,76.3 801.1,75.4 801.4,74.5 801.8,73.6 802.1,74.1 802.4,75.0 802.7,74.7 803.0,74.5 803.3,75.2 803.6,76.0 803.9,76.5 804.2,75.7 804.5,76.2 804.9,76.6 805.2,76.7 805.5,76.2 805.9,75.6 806.2,76.3 806.6,76.0 806.9,75.9 807.3,76.1 807.6,75.6 807.9,75.9 808.2,74.9 808.5,73.9 808.8,74.0 809.1,74.0 809.4,74.1 809.8,73.9 810.1,73.9 810.4,73.8 810.7,72.9 811.1,72.3 811.4,71.3 811.8,70.8 812.1,70.8 812.4,69.9 812.7,70.1 813.0,69.3 813.4,69.1 813.7,69.6 814.0,68.4 814.3,67.8 814.6,68.1 815.0,67.9 815.3,68.6 815.6,67.9 815.9,68.8 816.2,69.1 816.5,69.1 816.8,68.4 817.1,67.7 817.4,67.7 817.7,67.4 818.1,66.5 818.4,65.5 818.8,64.8 819.2,63.2 819.6,61.6 820.0,62.2 820.3,61.5 820.7,61.7 821.0,62.4 821.4,63.2 821.7,63.0 822.0,62.6 822.3,62.2 822.7,62.4 823.0,62.7 823.3,63.7 823.6,64.2 823.9,64.5 824.2,65.0 824.5,65.2 824.9,64.9 825.2,65.1 825.5,64.0 825.8,64.1 826.1,64.0 826.4,63.4 826.8,63.4 827.1,64.0 827.4,63.5 827.7,63.4 828.0,63.3 828.3,63.5 828.6,64.7 828.9,64.2 829.2,64.3 829.5,65.6 829.8,66.2 830.1,66.3 830.4,67.5 830.7,68.1 831.1,68.7 831.4,69.0 831.8,69.5 832.1,69.2 832.4,68.6 832.7,67.5 833.0,66.8 833.3,67.4 833.6,67.0 834.0,66.0 834.3,66.3 834.6,65.5 834.9,64.6 835.2,64.6 835.6,64.1 835.9,64.0 836.2,64.7 836.5,64.9 836.9,65.7 837.2,65.7 837.5,66.2 837.9,66.8 838.2,66.4 838.5,66.8 838.8,66.6 839.1,67.1 839.5,68.2 839.8,68.5 840.1,68.5 840.5,68.5 840.8,67.4 841.1,68.1 841.4,68.6 841.8,68.0 842.1,69.0 842.4,69.1 842.7,67.9 843.0,68.3 843.4,67.6 843.7,67.4 844.2,65.6 844.6,65.1 844.9,64.8 845.3,65.1 845.6,65.8 845.9,65.2 846.2,65.7 846.6,65.4 846.9,65.4 847.2,66.0 847.5,65.7 847.9,66.2 848.2,66.0 848.6,66.2 848.9,65.7 849.3,65.1 849.8,64.3 850.1,62.1 850.5,61.1 851.0,61.5 851.4,62.7 851.7,62.9 852.0,63.4 852.4,62.6 852.7,62.5 853.0,63.3 853.4,64.3 853.7,64.6 854.1,63.9 854.4,64.4 854.7,64.3 855.0,65.1 855.4,66.2 855.7,66.0 856.2,68.3 856.6,69.8 856.9,69.1 857.2,68.5 857.6,68.4 857.9,69.0 858.2,69.3 858.5,68.9 858.9,68.6 859.2,68.8 859.5,70.1 859.8,70.0 860.2,70.7 860.5,70.8 860.8,71.6 861.1,71.3 861.5,70.6 861.8,71.4 862.2,71.2 862.5,71.3 862.8,71.4 863.1,71.5 863.5,70.0 863.8,69.6 864.1,68.9 864.4,68.5 864.8,68.6 865.1,68.3 865.4,66.7 865.8,65.3 866.3,65.2 866.6,64.9 867.0,64.1 867.3,63.5 867.6,63.2 868.0,64.2 868.3,64.1 868.6,65.0 868.9,64.4 869.2,62.9 869.6,62.3 869.9,61.5 870.2,62.1 870.5,62.0 870.9,60.9 871.2,60.3 871.5,60.4 871.9,60.5 872.2,60.8 872.5,60.6 872.8,60.8 873.1,60.5 873.5,61.4 873.8,61.6 874.1,61.4 874.4,61.9 874.8,63.2 875.1,62.5 875.4,62.3 875.8,63.1 876.1,63.0 876.4,62.8 876.7,63.0 877.0,62.7 877.4,63.0 877.7,63.1 878.0,63.8 878.3,64.4 878.6,63.3 879.0,63.6 879.3,64.1 879.6,64.7 879.9,65.2 880.3,65.5 880.6,65.8 880.9,64.3 881.3,62.9 881.6,62.5 881.9,62.8 882.2,63.0 882.6,62.6 882.9,61.7 883.2,61.8 883.5,61.6 883.8,61.0 884.2,60.7 884.5,60.0 884.8,59.7 885.1,59.7 885.4,59.2 885.8,59.5 886.1,59.7 886.4,61.0 886.7,60.4 887.1,59.7 887.4,58.9 887.8,58.3 888.1,57.9 888.5,56.7 889.0,55.3 889.3,55.3 889.7,54.1 890.0,52.9 890.3,52.9 890.7,52.4 891.0,51.8 891.5,51.5 891.9,51.5 892.2,51.5 892.6,51.9 893.0,51.7 893.4,52.5 893.7,52.0 894.0,52.7 894.4,52.6 894.7,51.6 895.0,51.1 895.3,51.4 895.7,52.1 896.0,51.6 896.3,51.8 896.6,51.2 896.9,51.4 897.2,50.1 897.5,49.9 897.8,50.3 898.1,49.2 898.4,48.3 898.7,47.2 899.0,46.6 899.3,46.1 899.6,46.5 899.9,45.8 900.2,45.6 900.5,44.9 900.8,45.0 901.1,45.4 901.4,45.8 901.7,45.4 902.0,46.2 902.3,47.1 902.6,47.2 903.0,46.2 903.3,46.8 903.7,47.3 904.0,46.7 904.4,46.1 904.7,45.1 905.0,44.9 905.3,45.1 905.6,44.5 905.9,44.4 906.2,43.2 906.5,42.6 906.8,42.7 907.1,42.5 907.4,41.8 907.7,41.5 908.0,40.6 908.3,39.4 908.6,39.0 908.9,38.0 909.2,36.8 909.6,34.9 910.0,34.5 910.4,34.3 910.8,34.5 911.1,35.2 911.5,35.1 911.9,35.6 912.2,35.1 912.6,35.2 913.0,34.2 913.3,34.5 913.7,34.9 914.0,34.5 914.4,33.9 914.7,33.6 915.0,33.4 915.3,34.2 915.7,33.6 916.0,34.4 916.3,34.2 916.6,33.3 917.0,32.4" fill="none" stroke="#000" stroke-width="1.5" stroke-linejoin="round"/>
<path d="M0.0,195.9 C0.7,195.5 2.9,194.2 4.4,193.3 C5.9,192.4 7.4,191.6 8.9,190.7 C10.4,189.8 11.8,189.1 13.3,188.1 C14.8,187.1 16.3,185.8 17.8,184.4 C19.3,183.1 20.7,181.4 22.2,180.0 C23.7,178.6 25.2,177.2 26.7,175.9 C28.2,174.6 29.6,173.3 31.1,171.9 C32.6,170.5 34.5,168.7 35.6,167.4 C36.7,166.2 36.7,166.1 37.8,164.4 C38.9,162.7 41.1,159.6 42.2,157.0 C43.3,154.4 43.8,151.4 44.4,148.9 C45.0,146.4 45.3,144.2 45.9,142.2 C46.5,140.2 47.0,138.9 48.1,137.0 C49.2,135.1 51.3,132.9 52.6,131.0 C53.9,129.1 54.9,127.0 56.0,125.5 C57.1,124.0 58.0,122.7 59.0,122.0 C60.0,121.3 61.0,121.3 62.0,121.2 C63.0,121.1 63.9,121.3 65.0,121.6 C66.1,121.9 67.1,121.7 68.5,123.1 C69.9,124.5 71.9,128.1 73.3,130.0 C74.7,131.9 75.4,133.1 76.7,134.4 C78.0,135.7 79.6,136.5 81.1,137.8 C82.6,139.1 84.1,141.0 85.6,142.2 C87.1,143.4 88.7,144.1 90.0,145.2 C91.3,146.2 92.3,147.9 93.3,148.5 C94.3,149.1 94.8,149.1 95.8,148.9 C96.8,148.7 98.0,148.4 99.2,147.5 C100.5,146.6 102.0,144.6 103.3,143.3 C104.5,142.1 105.7,140.8 106.7,140.0 C107.7,139.2 108.3,138.8 109.2,138.5 C110.1,138.2 111.0,138.2 112.0,138.2 C113.0,138.2 113.8,137.9 115.0,138.4 C116.2,138.9 118.1,140.5 118.9,141.1 C119.7,141.7 119.5,141.7 120.0,141.9 C120.5,142.1 121.3,142.3 122.0,142.5 C122.7,142.7 123.4,142.9 124.1,143.1 C124.8,143.3 125.4,143.7 126.1,143.9 C126.8,144.1 127.5,144.3 128.2,144.5 C128.9,144.7 129.5,145.0 130.2,145.3 C130.9,145.6 131.5,145.9 132.2,146.2 C132.9,146.4 133.6,146.6 134.3,146.8 C135.0,147.0 135.7,147.2 136.3,147.4 C136.9,147.6 137.4,147.8 137.9,148.2 C138.4,148.6 139.1,149.2 139.6,149.8 C140.1,150.4 140.7,151.0 141.2,151.5 C141.7,152.0 142.2,152.5 142.8,152.9 C143.4,153.3 143.9,153.5 144.5,153.7 C145.1,153.9 145.8,154.0 146.5,154.1 C147.2,154.2 147.9,154.1 148.5,154.1 C149.1,154.1 149.6,153.9 150.0,154.1 C150.4,154.2 150.0,154.8 151.1,155.0 C152.2,155.2 155.2,155.1 156.7,155.0 C158.2,154.9 158.8,154.5 160.0,154.2 C161.2,153.8 162.5,153.3 163.9,152.9 C165.3,152.5 167.2,152.3 168.4,151.9 C169.6,151.5 170.1,151.2 171.0,150.6 C171.9,150.0 172.6,149.0 173.6,148.3 C174.6,147.6 175.7,147.1 176.9,146.4 C178.1,145.8 179.4,145.3 180.7,144.4 C182.0,143.5 183.5,141.9 184.6,141.2 C185.7,140.5 186.2,140.6 187.2,140.2 C188.2,139.8 189.4,139.4 190.5,138.9 C191.6,138.4 192.6,137.8 193.7,137.3 C194.8,136.8 196.0,136.0 196.9,135.7 C197.8,135.4 198.1,135.3 198.9,135.4 C199.7,135.5 200.4,135.9 201.5,136.0 C202.6,136.1 204.1,135.8 205.4,136.0 C206.7,136.2 208.0,136.6 209.3,137.0 C210.6,137.4 211.9,138.2 213.1,138.6 C214.3,139.0 215.2,139.2 216.4,139.6 C217.6,140.0 219.2,140.5 220.0,140.9 C220.8,141.3 221.0,141.7 221.3,141.9 C221.6,142.1 221.1,141.7 221.8,141.9 C222.4,142.2 224.4,142.9 225.5,143.4 C226.6,143.9 227.7,144.5 228.6,145.0 C229.5,145.5 230.3,146.4 231.1,146.6 C231.9,146.8 232.7,146.5 233.6,146.2 C234.5,146.0 235.6,145.6 236.8,145.3 C237.9,145.0 239.2,144.8 240.5,144.7 C241.8,144.6 243.0,144.7 244.2,144.7 C245.5,144.7 246.8,144.6 248.0,144.7 C249.2,144.8 250.5,145.1 251.8,145.3 C253.0,145.5 254.2,145.7 255.5,145.9 C256.8,146.1 258.0,146.1 259.2,146.2 C260.5,146.4 261.8,146.4 263.0,146.6 C264.2,146.8 265.5,147.0 266.8,147.2 C268.0,147.4 269.2,147.6 270.5,147.8 C271.8,148.0 273.0,148.2 274.2,148.4 C275.5,148.6 276.9,148.5 278.0,148.8 C279.1,149.0 280.1,149.8 280.8,150.0 C281.6,150.2 281.6,149.9 282.5,150.0 C283.4,150.1 285.0,150.4 286.2,150.6 C287.5,150.8 288.8,151.1 290.0,151.2 C291.2,151.4 292.6,151.5 293.8,151.6 C294.9,151.7 295.9,151.9 296.9,151.9 C297.9,151.9 299.0,151.9 300.0,151.6 C301.0,151.3 302.1,150.7 303.1,150.3 C304.1,149.9 305.2,149.8 306.2,149.4 C307.3,149.0 308.4,148.6 309.4,148.1 C310.4,147.6 311.5,146.9 312.5,146.6 C313.5,146.3 314.6,146.4 315.6,146.2 C316.6,146.1 317.6,146.0 318.8,145.9 C319.9,145.8 321.2,145.7 322.5,145.6 C323.8,145.5 325.0,145.4 326.2,145.3 C327.5,145.2 328.5,145.1 330.0,145.0 C331.5,144.9 333.8,144.6 335.0,144.7 C336.2,144.8 336.3,145.4 337.4,145.5 C338.5,145.6 340.3,145.6 341.8,145.5 C343.2,145.4 344.5,145.3 346.1,145.1 C347.7,144.9 349.6,144.5 351.2,144.4 C352.8,144.3 354.0,144.5 355.6,144.4 C357.2,144.3 359.1,143.8 360.7,143.7 C362.3,143.6 363.8,143.8 365.1,144.0 C366.4,144.2 367.4,144.7 368.7,145.1 C370.0,145.5 371.6,146.0 373.1,146.6 C374.6,147.2 376.0,147.7 377.5,148.4 C379.0,149.1 380.4,149.9 381.9,150.6 C383.3,151.3 384.8,152.1 386.2,152.8 C387.6,153.5 389.2,154.4 390.6,155.0 C392.0,155.6 393.0,155.9 394.3,156.4 C395.6,156.9 397.2,157.5 398.6,157.9 C400.1,158.3 400.9,158.5 403.0,158.6 C405.1,158.7 408.8,158.3 411.2,158.6 C413.7,158.9 415.8,159.7 417.5,160.2 C419.2,160.7 420.0,161.5 421.7,161.8 C423.4,162.1 425.8,162.1 427.9,161.8 C430.0,161.5 432.1,160.4 434.2,160.2 C436.3,160.0 438.3,160.3 440.4,160.7 C442.5,161.0 444.6,161.8 446.7,162.3 C448.8,162.8 451.5,163.5 452.9,163.8 C454.3,164.2 454.0,164.6 455.0,164.5 C456.0,164.4 457.6,163.8 458.9,163.5 C460.2,163.2 461.5,163.2 462.8,162.9 C464.1,162.6 465.4,162.1 466.7,161.6 C468.0,161.1 469.3,160.6 470.6,160.0 C471.9,159.4 473.1,158.9 474.4,158.3 C475.7,157.8 477.0,157.2 478.3,156.7 C479.6,156.2 481.0,155.9 482.2,155.4 C483.4,154.9 484.4,153.9 485.5,153.5 C486.6,153.1 487.5,153.2 488.7,152.8 C489.9,152.4 491.3,151.7 492.6,151.2 C493.9,150.7 495.2,150.1 496.5,149.6 C497.8,149.1 499.2,148.6 500.4,148.0 C501.6,147.4 502.5,146.6 503.6,146.0 C504.7,145.4 505.7,144.8 506.8,144.4 C507.9,144.0 508.7,143.7 510.1,143.4 C511.5,143.1 513.9,142.7 515.0,142.5 C516.1,142.3 515.9,142.3 516.7,142.2 C517.5,142.1 518.6,141.9 520.0,141.7 C521.4,141.5 523.3,141.1 525.0,140.8 C526.7,140.5 528.3,140.3 530.0,140.0 C531.7,139.7 533.5,139.2 535.0,138.8 C536.5,138.3 537.8,137.9 539.2,137.1 C540.6,136.3 542.0,134.9 543.3,133.8 C544.5,132.6 545.6,131.3 546.7,130.0 C547.8,128.7 548.9,127.0 550.0,125.8 C551.1,124.5 552.3,123.2 553.3,122.5 C554.3,121.8 554.7,122.0 555.8,121.7 C556.9,121.4 559.0,121.1 560.0,120.8 C561.0,120.5 560.6,120.3 561.7,120.0 C562.8,119.7 565.0,119.5 566.7,119.2 C568.4,118.9 570.3,118.8 571.7,118.3 C573.1,117.8 573.8,117.1 575.0,116.2 C576.2,115.4 577.8,114.5 579.2,113.3 C580.6,112.1 581.8,110.9 583.3,109.2 C584.8,107.5 586.8,104.5 588.3,103.3 C589.8,102.1 591.1,102.0 592.5,102.1 C593.9,102.2 595.5,103.3 596.7,103.8 C598.0,104.2 598.6,104.5 600.0,104.6 C601.4,104.7 603.3,104.7 605.0,104.2 C606.7,103.7 608.3,102.8 610.0,101.7 C611.7,100.7 613.3,99.0 615.0,97.9 C616.7,96.8 618.3,96.0 620.0,95.0 C621.7,94.0 623.6,92.7 625.0,91.7 C626.4,90.7 627.2,89.8 628.3,89.2 C629.4,88.6 630.6,88.5 631.7,87.9 C632.8,87.3 633.8,86.6 635.0,85.8 C636.2,85.0 637.8,84.1 639.2,83.3 C640.6,82.5 641.9,81.8 643.3,80.8 C644.7,79.8 646.2,78.6 647.5,77.5 C648.8,76.4 649.7,75.1 650.8,74.2 C651.9,73.3 653.2,72.7 654.2,72.1 C655.2,71.5 655.7,71.1 656.7,70.8 C657.7,70.5 659.0,70.2 660.0,70.0 C661.0,69.8 662.2,69.5 662.9,69.6 C663.5,69.7 663.2,70.4 663.9,70.7 C664.6,71.0 665.9,71.4 666.9,71.5 C667.9,71.6 668.9,71.2 669.9,71.1 C670.9,71.0 671.7,70.8 672.8,70.7 C673.9,70.6 675.3,70.4 676.5,70.4 C677.7,70.4 679.1,70.5 680.2,70.7 C681.3,71.0 682.2,71.3 683.2,71.9 C684.2,72.5 685.1,73.5 686.1,74.4 C687.1,75.3 688.1,76.4 689.1,77.4 C690.1,78.4 691.1,79.5 692.1,80.4 C693.1,81.3 694.0,82.5 695.0,83.0 C696.0,83.5 697.0,83.2 698.0,83.3 C699.0,83.3 700.0,83.3 701.0,83.3 C702.0,83.3 702.7,83.2 703.9,83.3 C705.1,83.4 706.9,83.5 708.4,83.7 C709.9,83.9 711.2,84.1 712.8,84.4 C714.4,84.7 716.8,85.3 718.0,85.6 C719.2,85.9 718.9,86.0 719.8,86.2 C720.7,86.5 722.4,86.8 723.6,87.1 C724.9,87.4 726.0,87.6 727.3,88.0 C728.5,88.4 730.0,88.9 731.1,89.3 C732.2,89.7 732.8,90.1 733.6,90.2 C734.5,90.3 735.2,90.2 736.2,89.9 C737.2,89.7 738.3,89.2 739.3,88.7 C740.3,88.2 741.3,87.6 742.4,87.1 C743.5,86.6 744.6,86.0 745.6,85.5 C746.6,85.0 747.2,84.5 748.1,84.3 C749.0,84.1 750.1,84.2 751.3,84.3 C752.4,84.3 753.8,84.4 755.0,84.6 C756.2,84.8 757.5,85.2 758.8,85.5 C760.1,85.8 761.3,86.2 762.6,86.2 C763.9,86.2 765.1,85.5 766.4,85.2 C767.7,84.9 768.6,84.9 770.2,84.6 C771.8,84.3 774.4,83.9 775.8,83.6 C777.2,83.3 777.2,82.9 778.4,82.9 C779.6,82.9 781.4,83.3 782.9,83.6 C784.4,83.9 785.8,84.4 787.3,84.7 C788.8,85.0 790.3,85.4 791.8,85.5 C793.3,85.6 795.0,85.4 796.2,85.1 C797.4,84.8 798.2,84.2 799.2,83.6 C800.2,83.0 801.0,82.1 802.1,81.4 C803.2,80.7 804.6,80.2 805.9,79.6 C807.1,79.0 808.4,78.4 809.6,77.7 C810.8,77.0 812.1,76.2 813.3,75.5 C814.5,74.8 815.9,74.3 817.0,73.6 C818.1,72.9 818.9,72.3 819.9,71.4 C820.9,70.5 821.9,69.3 822.9,68.4 C823.9,67.5 824.9,66.8 825.9,66.2 C826.9,65.7 827.8,65.3 828.8,65.1 C829.8,64.8 830.9,64.8 831.8,64.7 C832.7,64.6 833.4,64.6 834.0,64.7 C834.6,64.8 834.5,65.2 835.2,65.4 C836.0,65.6 837.4,65.5 838.5,65.7 C839.6,65.9 840.6,66.2 841.7,66.4 C842.8,66.6 843.9,67.0 845.0,67.0 C846.1,67.0 847.1,66.9 848.2,66.7 C849.3,66.5 850.3,65.9 851.4,65.7 C852.5,65.5 853.6,65.5 854.7,65.4 C855.8,65.4 856.8,65.4 857.9,65.4 C859.0,65.5 860.1,65.5 861.2,65.7 C862.3,65.9 863.3,66.4 864.4,66.7 C865.5,67.0 866.5,67.3 867.6,67.4 C868.7,67.5 869.8,67.6 870.9,67.4 C872.0,67.2 873.0,66.5 874.1,66.1 C875.2,65.7 876.3,65.2 877.4,64.8 C878.5,64.4 879.5,64.1 880.6,63.8 C881.7,63.5 882.7,63.1 883.8,62.8 C884.9,62.5 886.0,62.5 887.1,62.2 C888.2,61.9 889.5,61.3 890.3,60.9 C891.1,60.5 891.5,60.2 892.0,59.9 C892.5,59.6 892.5,59.7 893.3,59.1 C894.1,58.5 895.8,57.1 897.0,56.1 C898.2,55.1 899.6,54.0 900.7,53.1 C901.8,52.2 902.6,51.6 903.7,50.9 C904.8,50.2 906.3,49.5 907.4,48.7 C908.5,47.9 909.4,47.0 910.4,46.1 C911.4,45.2 912.3,44.1 913.3,43.1 C914.3,42.1 915.7,40.8 916.3,40.2 C916.9,39.6 916.6,39.5 916.7,39.4" fill="none" stroke="#ff0000" stroke-width="1.4" stroke-linejoin="round"/>
<path d="M0.0,194.8 C0.5,194.2 2.0,192.3 3.0,191.1 C4.0,189.9 4.8,188.6 5.9,187.4 C7.0,186.2 8.5,184.1 9.6,183.7 C10.7,183.3 11.6,185.3 12.6,185.2 C13.6,185.1 14.6,184.1 15.6,183.0 C16.6,181.9 17.5,180.1 18.5,178.5 C19.5,176.9 20.6,174.2 21.5,173.7 C22.4,173.2 23.0,175.9 23.7,175.6 C24.4,175.3 25.0,172.9 25.9,171.9 C26.8,170.9 28.0,170.2 28.9,169.6 C29.8,169.0 30.4,169.0 31.1,168.1 C31.8,167.2 32.4,165.6 33.3,164.4 C34.2,163.2 35.3,162.7 36.3,160.7 C37.3,158.7 38.3,155.7 39.3,152.6 C40.3,149.5 41.5,145.6 42.2,142.2 C42.9,138.8 43.2,135.2 43.7,131.9 C44.2,128.6 44.5,124.9 45.0,122.5 C45.5,120.1 46.1,117.3 46.7,117.4 C47.3,117.5 47.8,120.8 48.5,123.0 C49.2,125.2 50.0,129.9 50.7,130.4 C51.5,130.9 52.1,127.7 53.0,126.0 C53.9,124.3 55.0,121.9 56.0,120.5 C57.0,119.1 58.0,117.2 58.9,117.4 C59.8,117.6 60.5,119.7 61.5,121.5 C62.5,123.3 63.8,126.6 64.8,128.1 C65.8,129.6 66.8,130.0 67.2,130.6 C67.7,131.2 67.0,131.4 67.5,131.7 C68.0,132.0 69.2,131.7 70.0,132.5 C70.8,133.3 71.7,135.3 72.5,136.7 C73.3,138.1 74.2,140.6 75.0,140.8 C75.8,141.0 76.4,137.6 77.5,137.9 C78.6,138.2 80.5,141.0 81.7,142.5 C83.0,144.0 84.0,145.3 85.0,146.7 C86.0,148.1 86.4,149.6 87.5,150.8 C88.6,152.0 90.7,153.7 91.7,153.8 C92.7,153.8 93.1,152.7 93.8,151.2 C94.4,149.8 95.0,146.7 95.8,145.0 C96.6,143.3 97.5,142.4 98.3,141.2 C99.1,140.1 100.0,139.5 100.8,138.3 C101.6,137.1 102.5,134.3 103.3,134.2 C104.1,134.1 105.1,136.7 105.8,137.5 C106.5,138.3 106.5,138.7 107.5,139.2 C108.5,139.7 110.2,139.7 111.7,140.4 C113.2,141.1 115.3,142.4 116.7,143.3 C118.1,144.2 119.1,145.3 120.0,145.7 C120.9,146.1 121.5,145.8 122.0,145.7 C122.5,145.6 122.8,145.1 123.3,144.9 C123.8,144.7 124.6,144.3 125.3,144.3 C126.0,144.3 126.6,144.7 127.3,145.1 C128.0,145.5 128.8,146.0 129.4,146.6 C130.0,147.2 130.5,148.0 131.0,148.6 C131.5,149.2 132.0,150.0 132.6,150.4 C133.2,150.8 134.1,150.7 134.7,150.8 C135.3,150.9 135.8,150.8 136.3,151.0 C136.8,151.2 137.4,151.8 137.9,152.3 C138.4,152.8 139.1,153.3 139.6,153.9 C140.1,154.5 140.8,155.3 141.2,155.9 C141.6,156.5 141.9,157.3 142.2,157.6 C142.5,157.9 142.8,157.9 143.2,157.6 C143.6,157.3 144.0,156.4 144.5,155.9 C145.0,155.4 145.6,155.0 146.1,154.7 C146.6,154.4 147.0,154.3 147.7,154.3 C148.3,154.3 148.5,154.7 150.0,154.5 C151.5,154.3 155.0,153.7 156.7,153.3 C158.4,152.9 158.9,152.4 160.0,151.9 C161.1,151.4 162.1,150.8 163.2,150.6 C164.3,150.4 165.5,150.9 166.5,150.9 C167.5,150.9 168.2,151.5 169.1,150.3 C170.0,149.1 170.9,145.4 171.7,143.8 C172.4,142.2 172.9,140.9 173.6,140.6 C174.2,140.3 174.8,141.4 175.6,141.9 C176.3,142.4 177.1,143.8 178.1,143.8 C179.1,143.8 180.4,142.9 181.4,141.9 C182.4,140.9 183.1,138.9 184.0,138.0 C184.9,137.1 185.6,137.0 186.6,136.7 C187.6,136.4 188.7,136.5 189.8,136.3 C190.9,136.1 192.0,135.8 193.0,135.4 C194.0,135.0 194.7,134.4 195.6,134.1 C196.5,133.8 197.4,133.2 198.2,133.7 C199.0,134.2 199.5,136.2 200.2,137.0 C200.8,137.8 201.3,138.3 202.1,138.3 C202.8,138.3 203.8,137.1 204.7,137.0 C205.6,136.9 206.4,137.2 207.3,137.6 C208.2,138.0 209.0,138.9 209.9,139.6 C210.8,140.2 211.8,141.3 212.5,141.5 C213.2,141.7 213.7,140.5 214.4,140.6 C215.2,140.7 216.1,141.6 217.0,142.2 C217.9,142.8 219.3,143.6 220.0,144.1 C220.7,144.6 220.4,144.6 221.1,145.0 C221.8,145.4 223.2,145.8 224.2,146.2 C225.3,146.7 226.4,147.2 227.4,147.5 C228.4,147.8 229.7,148.2 230.5,148.1 C231.3,148.0 231.8,147.7 232.4,146.9 C233.0,146.1 233.5,144.0 234.2,143.1 C235.0,142.2 235.9,141.2 236.8,141.2 C237.6,141.2 238.4,142.3 239.2,143.1 C240.1,143.9 240.9,145.3 241.8,146.2 C242.6,147.2 243.4,148.6 244.2,148.8 C245.1,148.9 246.0,147.6 246.8,146.9 C247.5,146.2 248.0,144.8 248.6,144.4 C249.2,144.0 249.8,144.5 250.5,144.7 C251.2,144.8 252.2,145.0 253.0,145.3 C253.8,145.6 254.6,145.8 255.5,146.2 C256.4,146.7 257.6,147.6 258.6,148.1 C259.6,148.6 260.7,149.1 261.8,149.1 C262.8,149.1 263.9,147.7 264.9,147.8 C265.9,147.9 267.1,149.4 268.0,149.7 C268.9,150.0 269.7,149.6 270.5,149.4 C271.3,149.2 272.2,148.8 273.0,148.8 C273.8,148.8 274.7,149.1 275.5,149.4 C276.3,149.7 277.5,149.9 278.0,150.3 C278.5,150.7 278.2,151.4 278.8,151.6 C279.3,151.8 280.3,151.8 281.2,151.6 C282.2,151.4 283.4,150.5 284.4,150.3 C285.4,150.1 286.5,150.0 287.5,150.3 C288.5,150.6 289.6,151.4 290.6,151.9 C291.6,152.4 292.7,152.9 293.8,153.1 C294.8,153.2 296.0,153.2 296.9,152.8 C297.8,152.4 298.6,151.6 299.4,150.6 C300.2,149.6 301.2,147.8 301.9,146.9 C302.6,146.0 303.1,145.2 303.8,145.3 C304.4,145.4 304.9,146.6 305.6,147.2 C306.3,147.8 307.1,148.8 307.8,148.8 C308.5,148.7 309.2,147.5 310.0,146.9 C310.8,146.3 311.6,145.6 312.5,145.3 C313.4,145.0 314.6,145.2 315.6,145.3 C316.6,145.4 317.7,145.6 318.8,145.6 C319.8,145.6 320.9,145.4 321.9,145.3 C322.9,145.2 324.0,145.1 325.0,145.0 C326.0,144.9 327.1,144.6 328.1,144.7 C329.1,144.8 330.1,145.4 331.2,145.6 C332.4,145.8 334.1,146.0 335.0,145.9 C335.9,145.8 335.7,145.0 336.6,144.8 C337.5,144.6 339.1,144.8 340.3,144.8 C341.5,144.9 342.7,145.1 343.9,145.1 C345.1,145.1 346.5,145.3 347.6,145.1 C348.7,144.9 349.5,144.4 350.5,144.0 C351.5,143.6 352.3,143.0 353.4,142.9 C354.5,142.8 355.9,143.4 357.1,143.7 C358.3,144.0 359.5,144.6 360.7,144.8 C361.9,145.0 363.3,144.9 364.4,145.1 C365.5,145.3 366.3,145.6 367.3,146.2 C368.3,146.8 369.2,147.8 370.2,148.4 C371.2,149.0 372.0,149.1 373.1,149.5 C374.2,149.9 375.7,150.4 376.8,151.0 C377.9,151.6 378.6,152.8 379.7,153.2 C380.8,153.6 382.2,153.0 383.3,153.5 C384.4,154.0 385.4,155.2 386.2,156.1 C387.0,157.0 387.7,158.4 388.4,159.0 C389.1,159.6 389.8,159.7 390.6,159.4 C391.5,159.2 392.6,157.9 393.5,157.5 C394.4,157.1 394.8,157.0 395.7,157.2 C396.6,157.4 397.5,158.2 398.6,158.6 C399.7,159.0 401.4,159.4 402.3,159.4 C403.2,159.4 402.9,158.6 404.0,158.6 C405.1,158.6 407.5,158.7 409.2,159.2 C410.9,159.7 413.0,160.5 414.4,161.5 C415.8,162.5 416.6,164.2 417.5,165.0 C418.4,165.8 418.8,166.4 419.5,166.2 C420.2,165.9 420.9,164.7 421.5,163.5 C422.1,162.3 422.5,160.0 423.0,159.0 C423.5,158.0 423.9,157.7 424.6,157.6 C425.3,157.5 426.1,158.0 427.0,158.3 C427.9,158.6 428.8,158.8 430.0,159.2 C431.2,159.6 432.5,160.2 434.2,160.7 C435.9,161.2 438.3,161.7 440.4,162.3 C442.5,162.9 445.0,164.1 446.7,164.4 C448.4,164.8 449.5,164.6 450.8,164.4 C452.1,164.2 453.7,163.5 454.4,163.3 C455.1,163.1 454.4,163.5 455.0,163.2 C455.6,162.9 457.1,162.0 458.2,161.6 C459.3,161.2 460.4,160.6 461.5,160.6 C462.6,160.6 463.6,162.0 464.7,161.6 C465.8,161.2 466.9,159.4 468.0,158.3 C469.1,157.2 470.1,155.7 471.2,155.1 C472.3,154.5 473.3,154.8 474.4,154.8 C475.5,154.9 476.6,155.4 477.7,155.4 C478.8,155.4 479.9,155.4 480.9,154.8 C481.9,154.2 482.7,152.9 483.5,151.9 C484.3,150.9 485.2,148.8 485.8,148.6 C486.4,148.4 486.9,149.9 487.4,150.6 C487.9,151.2 488.4,152.5 489.0,152.5 C489.6,152.5 490.5,151.2 491.3,150.6 C492.1,150.0 492.9,149.6 493.9,148.9 C494.9,148.2 496.0,147.4 497.1,146.7 C498.2,146.0 499.4,145.5 500.4,144.7 C501.4,143.9 502.1,142.5 503.0,142.1 C503.9,141.7 504.6,142.4 505.5,142.5 C506.4,142.6 507.3,142.5 508.1,142.8 C508.9,143.1 509.5,144.2 510.1,144.4 C510.8,144.6 511.2,144.1 512.0,143.8 C512.8,143.4 514.2,143.0 515.0,142.5 C515.8,142.0 515.9,141.4 516.7,140.8 C517.5,140.2 518.9,139.0 520.0,138.8 C521.1,138.5 522.2,139.1 523.3,139.2 C524.4,139.3 525.6,139.1 526.7,139.2 C527.8,139.3 528.9,140.2 530.0,140.0 C531.1,139.8 532.2,138.8 533.3,137.9 C534.4,137.0 535.6,135.9 536.7,134.6 C537.8,133.3 538.9,131.3 540.0,130.0 C541.1,128.7 542.2,127.9 543.3,126.7 C544.4,125.5 545.9,124.1 546.7,122.9 C547.5,121.7 547.6,120.2 548.3,119.6 C549.0,119.0 550.0,119.0 550.8,119.2 C551.6,119.4 552.5,120.4 553.3,120.8 C554.1,121.2 555.0,121.8 555.8,121.7 C556.6,121.6 557.6,120.7 558.3,120.4 C559.0,120.1 559.6,120.2 560.0,120.0 C560.4,119.8 559.6,119.5 560.6,119.0 C561.6,118.5 564.1,117.4 565.8,117.1 C567.5,116.8 569.4,118.0 570.9,117.1 C572.4,116.2 573.5,114.1 574.8,111.9 C576.1,109.7 577.4,106.0 578.7,104.1 C580.0,102.1 581.1,100.6 582.6,100.2 C584.1,99.8 586.3,101.1 587.8,101.5 C589.3,101.9 590.3,101.6 591.7,102.8 C593.1,104.0 594.8,108.8 596.2,108.6 C597.6,108.4 598.8,103.0 600.0,101.7 C601.2,100.4 602.2,101.2 603.3,100.8 C604.4,100.4 605.6,100.0 606.7,99.6 C607.8,99.2 608.9,99.2 610.0,98.3 C611.1,97.4 612.2,95.5 613.3,94.2 C614.4,93.0 615.6,91.2 616.7,90.8 C617.8,90.4 618.9,92.0 620.0,91.7 C621.1,91.4 622.3,90.0 623.3,89.2 C624.3,88.4 625.0,86.9 625.8,86.7 C626.6,86.5 627.5,88.1 628.3,87.9 C629.1,87.8 630.0,86.9 630.8,85.8 C631.6,84.7 632.3,82.1 633.3,81.2 C634.3,80.4 635.6,81.1 636.7,80.8 C637.8,80.5 638.9,79.8 640.0,79.2 C641.1,78.6 642.2,77.9 643.3,77.1 C644.4,76.3 645.7,75.5 646.7,74.2 C647.7,72.9 648.4,70.1 649.2,69.2 C650.0,68.3 650.7,68.5 651.7,68.8 C652.7,69.0 653.9,70.5 655.0,70.8 C656.1,71.1 657.3,70.4 658.3,70.4 C659.3,70.5 660.1,70.7 661.0,71.1 C661.9,71.5 662.9,72.6 663.9,73.0 C664.9,73.4 666.0,73.7 666.9,73.3 C667.8,72.9 668.6,71.6 669.5,70.7 C670.4,69.8 671.2,68.3 672.1,68.1 C673.0,67.9 674.0,68.9 675.0,69.3 C676.0,69.7 677.1,70.0 678.0,70.7 C678.9,71.4 679.5,72.4 680.2,73.7 C680.9,75.0 681.6,77.1 682.4,78.5 C683.1,79.9 684.0,81.6 684.7,82.2 C685.5,82.8 686.0,82.2 686.9,82.2 C687.8,82.2 688.9,81.5 689.9,81.9 C690.9,82.3 691.9,83.7 692.8,84.4 C693.6,85.1 694.2,86.0 695.0,85.9 C695.8,85.8 696.5,84.3 697.3,83.7 C698.0,83.1 698.6,82.2 699.5,82.2 C700.4,82.2 701.4,83.5 702.4,83.7 C703.4,83.9 704.4,83.0 705.4,83.3 C706.4,83.6 707.4,84.8 708.4,85.6 C709.4,86.3 710.3,87.7 711.3,87.8 C712.3,87.9 713.3,86.5 714.3,86.3 C715.3,86.1 716.5,86.5 717.3,86.7 C718.1,86.9 718.3,87.1 719.1,87.4 C719.9,87.7 721.3,88.0 722.3,88.4 C723.2,88.8 724.0,89.6 724.8,89.9 C725.6,90.2 726.4,90.0 727.3,90.2 C728.1,90.4 729.0,90.8 729.9,91.2 C730.8,91.6 731.7,92.8 732.4,92.8 C733.1,92.8 733.7,92.1 734.3,91.2 C734.9,90.3 735.5,88.4 736.2,87.4 C736.9,86.4 737.9,85.8 738.7,85.2 C739.5,84.6 740.4,84.2 741.2,83.6 C742.0,83.0 742.9,81.9 743.7,81.7 C744.5,81.5 745.4,81.9 746.2,82.4 C747.0,82.9 748.0,83.8 748.7,84.6 C749.4,85.4 750.0,86.8 750.6,87.4 C751.2,88.0 751.8,88.1 752.5,88.0 C753.2,87.9 754.1,87.3 755.0,86.8 C755.9,86.3 756.8,85.5 757.6,85.2 C758.5,84.9 759.3,85.0 760.1,84.9 C760.9,84.9 761.8,85.2 762.6,84.9 C763.4,84.6 764.3,83.5 765.1,83.3 C765.9,83.1 766.8,83.4 767.6,83.6 C768.5,83.8 769.4,84.5 770.2,84.3 C771.1,84.1 771.8,82.9 772.7,82.4 C773.6,81.9 775.1,81.4 775.8,81.4 C776.5,81.4 776.3,82.0 777.0,82.5 C777.7,83.0 778.9,84.0 779.9,84.7 C780.9,85.5 781.9,86.7 782.9,87.0 C783.9,87.3 784.9,86.9 785.9,86.6 C786.9,86.3 787.8,85.6 788.8,85.1 C789.8,84.5 790.8,83.6 791.8,83.3 C792.8,83.0 793.7,83.3 794.7,83.3 C795.7,83.3 796.8,84.0 797.7,83.3 C798.6,82.6 799.2,80.4 799.9,79.2 C800.6,78.0 801.2,76.8 802.1,76.2 C803.0,75.7 804.1,75.8 805.1,75.9 C806.1,76.0 807.1,77.0 808.1,76.6 C809.1,76.2 810.0,74.2 811.0,73.3 C812.0,72.4 813.0,71.8 814.0,71.0 C815.0,70.2 816.1,69.5 817.0,68.8 C817.9,68.1 818.5,67.6 819.2,66.6 C819.9,65.6 820.1,63.4 821.0,62.9 C821.9,62.4 823.4,63.0 824.4,63.3 C825.4,63.5 826.3,64.0 827.3,64.4 C828.3,64.8 829.3,65.5 830.3,65.9 C831.3,66.3 832.6,66.5 833.3,66.6 C833.9,66.7 834.0,66.7 834.2,66.7 C834.4,66.7 834.1,66.6 834.6,66.4 C835.1,66.2 836.3,65.7 837.2,65.7 C838.1,65.7 838.9,66.1 839.8,66.4 C840.7,66.7 841.5,67.4 842.4,67.4 C843.3,67.5 844.1,66.9 845.0,66.7 C845.9,66.5 846.8,66.5 847.6,66.1 C848.5,65.7 849.2,65.0 850.1,64.4 C851.0,63.8 851.8,62.5 852.7,62.5 C853.6,62.5 854.4,63.8 855.3,64.4 C856.2,65.1 857.0,65.7 857.9,66.4 C858.8,67.1 859.6,68.0 860.5,68.7 C861.4,69.4 862.2,70.9 863.1,70.6 C864.0,70.3 864.8,68.0 865.7,67.0 C866.6,66.0 867.4,65.2 868.3,64.4 C869.2,63.6 870.0,62.4 870.9,61.9 C871.8,61.4 872.6,61.2 873.5,61.2 C874.4,61.2 875.2,61.9 876.1,62.2 C877.0,62.5 877.8,62.6 878.7,62.8 C879.6,63.0 880.4,63.6 881.3,63.5 C882.1,63.4 882.9,62.3 883.8,61.9 C884.6,61.5 885.5,61.2 886.4,60.9 C887.3,60.6 888.1,60.8 889.0,59.9 C889.9,59.0 891.0,56.4 891.6,55.4 C892.2,54.4 892.2,54.0 892.5,53.6 C892.8,53.2 892.7,53.4 893.3,53.1 C893.9,52.8 895.3,52.6 896.3,52.0 C897.3,51.4 898.4,50.2 899.3,49.4 C900.2,48.5 900.6,47.3 901.5,46.9 C902.4,46.5 903.4,47.7 904.4,47.2 C905.4,46.7 906.5,45.1 907.4,43.9 C908.3,42.7 909.0,40.9 909.6,39.8 C910.2,38.7 910.5,38.0 911.1,37.2 C911.7,36.4 912.5,35.3 913.3,35.0 C914.0,34.7 915.0,35.5 915.6,35.4 C916.2,35.3 916.8,34.5 917.0,34.3" fill="none" stroke="#008000" stroke-width="1.5" stroke-linejoin="round"/>
<text x="247.2" y="67.25" font-size="31" font-weight="bold" fill="#000" textLength="64.6" lengthAdjust="spacingAndGlyphs">Gold</text>
<text x="518.9" y="71.7" font-size="8.6" font-weight="bold" fill="#008000" textLength="94" lengthAdjust="spacingAndGlyphs">50-Day Moving Average</text>
<text x="615.2" y="116.0" font-size="8.6" font-weight="bold" fill="#ff0000" textLength="98.5" lengthAdjust="spacingAndGlyphs">200-Day Moving Average</text>
<text x="198.8" y="281.8" font-size="16.5" font-weight="bold" fill="#000" textLength="548.3" lengthAdjust="spacingAndGlyphs">Number of Days 50-Day Moving Average &gt; 200-Day Moving Average</text>
<polygon points="-15.6,519.7 62.9,276.9 62.9,520 -15.7,520" fill="#000"/>
<text x="63.15" y="271.15" font-size="12.2" fill="#1a1a1a" text-anchor="middle">1,033</text>
<polygon points="94.2,519.7 106.7,480.9 106.7,520 94.1,520" fill="#000"/>
<polygon points="149.9,519.7 199.2,367.2 199.2,520 149.8,520" fill="#000"/>
<text x="199.55" y="361.59" font-size="12.2" fill="#1a1a1a" text-anchor="middle">649</text>
<polygon points="232.8,519.7 241.0,494.3 241.0,520 232.7,520" fill="#000"/>
<polygon points="248.6,519.7 256.8,494.3 256.8,520 248.5,520" fill="#000"/>
<polygon points="271.6,519.7 273.4,514.1 273.4,520 271.5,520" fill="#000"/>
<polygon points="275.1,519.7 275.6,518.1 275.6,520 275.0,520" fill="#000"/>
<polygon points="286.6,519.7 287.4,517.1 287.4,520 286.5,520" fill="#000"/>
<polygon points="298.8,519.7 329.6,424.5 329.6,520 298.7,520" fill="#000"/>
<text x="329.60" y="417.53" font-size="12.2" fill="#1a1a1a" text-anchor="middle">405</text>
<polygon points="336.2,519.7 347.6,484.5 347.6,520 336.1,520" fill="#000"/>
<polygon points="349.7,519.7 358.1,493.6 358.1,520 349.6,520" fill="#000"/>
<polygon points="422.0,519.7 432.5,487.3 432.5,520 421.9,520" fill="#000"/>
<polygon points="453.4,519.7 509.7,345.6 509.7,520 453.3,520" fill="#000"/>
<text x="508.25" y="339.47" font-size="12.2" fill="#1a1a1a" text-anchor="middle">741</text>
<polygon points="515.3,519.7 528.7,478.1 528.7,520 515.2,520" fill="#000"/>
<polygon points="532.2,519.7 555.5,447.6 555.5,520 532.1,520" fill="#000"/>
<polygon points="559.2,519.7 590.9,421.5 590.9,520 559.1,520" fill="#000"/>
<text x="590.20" y="414.87" font-size="12.2" fill="#1a1a1a" text-anchor="middle">418</text>
<polygon points="599.0,519.7 660.3,330.1 660.3,520 598.9,520" fill="#000"/>
<text x="661.20" y="323.26" font-size="12.2" fill="#1a1a1a" text-anchor="middle">807</text>
<polygon points="669.1,519.7 677.2,494.8 677.2,520 669.0,520" fill="#000"/>
<polygon points="697.8,519.7 701.4,508.7 701.4,520 697.7,520" fill="#000"/>
<polygon points="703.5,519.7 707.5,507.2 707.5,520 703.4,520" fill="#000"/>
<polygon points="734.6,519.7 748.7,476.0 748.7,520 734.5,520" fill="#000"/>
<polygon points="758.4,519.7 779.4,454.6 779.4,520 758.3,520" fill="#000"/>
<polygon points="790.1,519.7 829.9,396.6 829.9,520 790.0,520" fill="#000"/>
<text x="829.70" y="390.36" font-size="12.2" fill="#1a1a1a" text-anchor="middle">524</text>
<polygon points="837.4,519.7 839.1,514.3 839.1,520 837.3,520" fill="#000"/>
<polygon points="845.6,519.7 848.7,510.1 848.7,520 845.5,520" fill="#000"/>
<polygon points="849.0,519.7 856.5,496.4 856.5,520 848.9,520" fill="#000"/>
<polygon points="866.5,519.7 880.0,477.9 880.0,520 866.4,520" fill="#000"/>
<polygon points="883.4,519.7 916.8,416.3 916.8,520 883.3,520" fill="#000"/>
<text x="916.10" y="414.60" font-size="12.2" fill="#1a1a1a" text-anchor="middle">440</text>
<defs><clipPath id="cl"><rect x="930" y="236" width="40" height="284"/></clipPath><clipPath id="ct"><rect x="930" y="10" width="40" height="225"/></clipPath></defs>
<g clip-path="url(#cl)">
<line x1="939.5" y1="519.7" x2="942" y2="519.7" stroke="#999" stroke-width="0.8"/>
<text x="944" y="523.6" font-size="12" fill="#3a3a3a">0</text>
<line x1="939.5" y1="496.2" x2="942" y2="496.2" stroke="#999" stroke-width="0.8"/>
<text x="944" y="500.1" font-size="12" fill="#3a3a3a">100</text>
<line x1="939.5" y1="472.7" x2="942" y2="472.7" stroke="#999" stroke-width="0.8"/>
<text x="944" y="476.6" font-size="12" fill="#3a3a3a">200</text>
<line x1="939.5" y1="449.2" x2="942" y2="449.2" stroke="#999" stroke-width="0.8"/>
<text x="944" y="453.1" font-size="12" fill="#3a3a3a">300</text>
<line x1="939.5" y1="425.7" x2="942" y2="425.7" stroke="#999" stroke-width="0.8"/>
<text x="944" y="429.6" font-size="12" fill="#3a3a3a">400</text>
<line x1="939.5" y1="402.2" x2="942" y2="402.2" stroke="#999" stroke-width="0.8"/>
<text x="944" y="406.1" font-size="12" fill="#3a3a3a">500</text>
<line x1="939.5" y1="378.7" x2="942" y2="378.7" stroke="#999" stroke-width="0.8"/>
<text x="944" y="382.6" font-size="12" fill="#3a3a3a">600</text>
<line x1="939.5" y1="355.2" x2="942" y2="355.2" stroke="#999" stroke-width="0.8"/>
<text x="944" y="359.1" font-size="12" fill="#3a3a3a">700</text>
<line x1="939.5" y1="331.7" x2="942" y2="331.7" stroke="#999" stroke-width="0.8"/>
<text x="944" y="335.6" font-size="12" fill="#3a3a3a">800</text>
<line x1="939.5" y1="308.2" x2="942" y2="308.2" stroke="#999" stroke-width="0.8"/>
<text x="944" y="312.1" font-size="12" fill="#3a3a3a">900</text>
<line x1="939.5" y1="284.7" x2="942" y2="284.7" stroke="#999" stroke-width="0.8"/>
<text x="944" y="288.6" font-size="12" fill="#3a3a3a">1000</text>
<line x1="939.5" y1="261.2" x2="942" y2="261.2" stroke="#999" stroke-width="0.8"/>
<text x="944" y="265.1" font-size="12" fill="#3a3a3a">1100</text>
<line x1="939.5" y1="237.7" x2="942" y2="237.7" stroke="#999" stroke-width="0.8"/>
<text x="944" y="241.6" font-size="12" fill="#3a3a3a">1200</text>
</g>
<rect x="942.5" y="408.3" width="18" height="15.3" fill="#000"/>
<text x="944" y="420.3" font-size="12" fill="#fff">440</text>
<g clip-path="url(#ct)">
<line x1="939.5" y1="61.7" x2="942" y2="61.7" stroke="#999" stroke-width="0.8"/>
<text x="944" y="66.1" font-size="12.4" fill="#33404d">2000</text>
<line x1="939.5" y1="76.3" x2="942" y2="76.3" stroke="#999" stroke-width="0.8"/>
<text x="944" y="80.7" font-size="12.4" fill="#33404d">1500</text>
<line x1="939.5" y1="92.1" x2="942" y2="92.1" stroke="#999" stroke-width="0.8"/>
<text x="944" y="96.5" font-size="12.4" fill="#33404d">1100</text>
<line x1="939.5" y1="108.2" x2="942" y2="108.2" stroke="#999" stroke-width="0.8"/>
<text x="944" y="112.6" font-size="12.4" fill="#33404d">800</text>
<line x1="939.5" y1="122.9" x2="942" y2="122.9" stroke="#999" stroke-width="0.8"/>
<text x="944" y="127.3" font-size="12.4" fill="#33404d">600</text>
<line x1="939.5" y1="143.5" x2="942" y2="143.5" stroke="#999" stroke-width="0.8"/>
<text x="944" y="147.9" font-size="12.4" fill="#33404d">400</text>
<line x1="939.5" y1="158.1" x2="942" y2="158.1" stroke="#999" stroke-width="0.8"/>
<text x="944" y="162.5" font-size="12.4" fill="#33404d">300</text>
<line x1="939.5" y1="178.7" x2="942" y2="178.7" stroke="#999" stroke-width="0.8"/>
<text x="944" y="183.1" font-size="12.4" fill="#33404d">200</text>
<line x1="939.5" y1="196.8" x2="942" y2="196.8" stroke="#999" stroke-width="0.8"/>
<text x="944" y="201.2" font-size="12.4" fill="#33404d">140</text>
<line x1="939.5" y1="212.4" x2="942" y2="212.4" stroke="#999" stroke-width="0.8"/>
<text x="944" y="216.8" font-size="12.4" fill="#33404d">0.0</text>
</g>
<polyline points="942.4,15.5 941.6,21 940.4,31" fill="none" stroke="#555" stroke-width="0.6"/>
<line x1="940" y1="35.2" x2="942.3" y2="35.2" stroke="#3a8a3a" stroke-width="0.7"/>
<polyline points="939.2,39.5 940.6,44.5 941.8,48.5" fill="none" stroke="#f55" stroke-width="0.6"/>
<rect x="943" y="10" width="18" height="16.3" fill="#000"/>
<text x="944" y="22.5" font-size="12.4" fill="#fff">3,551</text>
<rect x="943" y="26.7" width="18" height="16.1" fill="#008000"/>
<text x="944" y="39.3" font-size="12.4" fill="#fff">3,378</text>
<rect x="943" y="43" width="18" height="17" fill="#ff0000"/>
<text x="944" y="56" font-size="12.4" fill="#fff">3,067</text>
<g>
<text x="839" y="170" font-size="6.6" font-weight="bold" fill="#555" textLength="11" lengthAdjust="spacingAndGlyphs">The</text>
<path fill-rule="evenodd" fill="#e8193e" d="M840.4,172.1 H846.9 A7.2,7.4 0 0 1 846.9,186.9 H840.4 Z M844.6,175.8 H846.6 A3.5,3.7 0 0 1 846.6,183.2 H844.6 Z"/>
<path fill-rule="evenodd" fill="#e8193e" d="M857.1,190.3 V178.3 Q857.1,172.1 863.9,172.1 Q870.7,172.1 870.7,178.3 V183.6 H861.6 V190.3 Z M861.4,176.3 H866.4 V180.4 H861.4 Z"/>
<rect x="873" y="172.1" width="4.4" height="14.8" fill="#e8193e"/>
<path fill="#e8193e" d="M880,172.1 H884.3 V183.1 H892.2 V186.9 H880 Z"/>
<path fill="#e8193e" d="M889.9,172.1 H894.8 L897,176.6 L899.2,172.1 H904.1 L899.2,180.6 V186.9 H894.9 V180.6 Z"/>
<path fill="#27b377" d="M840.6,206 V190.9 H844.6 L850.2,199.6 V190.9 H854.1 V206 H850.1 L844.5,197.3 V206 Z"/>
<path fill="none" stroke="#27b377" stroke-width="4.5" d="M859.35,195.9 V199.3 A4.5,4.5 0 0 0 868.35,199.3 V188.6"/>
<path fill="#fff" d="M856.8,195.2 L859.35,198.1 L861.9,195.2 Z"/>
<path fill="#e8193e" d="M855.1,189.9 H863.2 L859.3,195.9 Z"/>
<path fill="#27b377" d="M864.0,189.2 H872.1 L868.1,183.1 Z"/>
<path fill="#27b377" d="M872.7,206 V190.8 H877.4 L880.45,196.6 L883.5,190.8 H888.2 V206 H884.1 V197.2 L881.6,201.6 H879.3 L876.8,197.2 V206 Z"/>
<path fill-rule="evenodd" fill="#27b377" d="M891,190.8 H899.6 Q903.8,190.8 903.8,194.5 Q903.8,197 902,198 Q904.4,199 904.4,201.8 Q904.4,206 899.8,206 H891 Z M895.1,194.4 H899.4 Q900.3,194.4 900.3,195.7 Q900.3,197 899.4,197 H895.1 Z M895.1,200.1 H899.9 Q901.3,200.1 901.3,201.3 Q901.3,202.5 899.9,202.5 H895.1 Z"/>
<path fill="#27b377" d="M907.1,190.8 H918.4 V194.5 H911.2 V196.7 H917.6 V200.1 H911.2 V202.4 H918.5 V206 H907.1 Z"/>
<path fill-rule="evenodd" fill="#27b377" d="M920.9,190.8 H928.2 Q934,190.8 934,196.4 Q934,199.9 931,201.3 L934.3,206 H929.9 L927.3,202.1 H925 V206 H920.9 Z M925,194.4 H928 Q929.9,194.4 929.9,196.4 Q929.9,198.4 928,198.4 H925 Z"/>
<text x="840.8" y="213.3" font-size="5.9" fill="#555" textLength="63.6" lengthAdjust="spacingAndGlyphs">with Grant Hawkridge</text>
</g>
</svg></body></html>
